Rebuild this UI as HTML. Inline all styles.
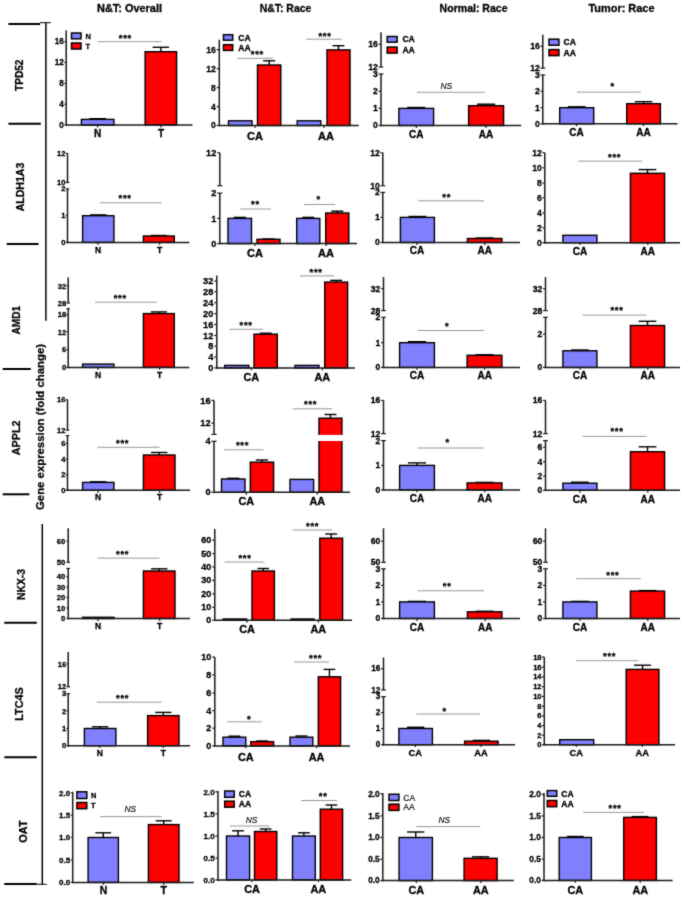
<!DOCTYPE html>
<html lang="en"><head><meta charset="utf-8"><title>Gene expression (fold change)</title>
<style>html,body{margin:0;padding:0;background:#fff}body{width:685px;height:897px;overflow:hidden}svg{display:block;font-family:"Liberation Sans",Arial,sans-serif}</style></head><body>
<svg width="685" height="897" viewBox="0 0 685 897">
<defs><filter id="soft" x="0" y="0" width="100%" height="100%" color-interpolation-filters="sRGB"><feConvolveMatrix order="3" kernelMatrix="1 4 1 4 26 4 1 4 1" edgeMode="duplicate" preserveAlpha="true"/></filter></defs>
<g filter="url(#soft)">
<rect x="0" y="0" width="685" height="897" fill="#fff"/>
<text x="129.5" y="12.2" font-size="11" font-weight="bold" text-anchor="middle" fill="#000" stroke="#000" stroke-width="0.3" textLength="65" lengthAdjust="spacingAndGlyphs">N&amp;T: Overall</text>
<text x="285.5" y="12.2" font-size="11" font-weight="bold" text-anchor="middle" fill="#000" stroke="#000" stroke-width="0.3" textLength="51.5" lengthAdjust="spacingAndGlyphs">N&amp;T: Race</text>
<text x="473.6" y="12.2" font-size="11" font-weight="bold" text-anchor="middle" fill="#000" stroke="#000" stroke-width="0.3" textLength="68" lengthAdjust="spacingAndGlyphs">Normal: Race</text>
<text x="621.5" y="12.2" font-size="11" font-weight="bold" text-anchor="middle" fill="#000" stroke="#000" stroke-width="0.3" textLength="66" lengthAdjust="spacingAndGlyphs">Tumor: Race</text>
<line x1="45.9" y1="22.7" x2="45.9" y2="320.8" stroke="#000" stroke-width="1.5" stroke-linecap="butt"/>
<line x1="40.1" y1="22.7" x2="50.8" y2="22.7" stroke="#000" stroke-width="1" stroke-linecap="butt"/>
<line x1="8.4" y1="24.1" x2="40.1" y2="24.1" stroke="#000" stroke-width="2" stroke-linecap="butt"/>
<line x1="8.4" y1="123.7" x2="40.8" y2="123.7" stroke="#000" stroke-width="2" stroke-linecap="butt"/>
<line x1="6.7" y1="243.9" x2="38.5" y2="243.9" stroke="#000" stroke-width="2" stroke-linecap="butt"/>
<line x1="2.7" y1="369" x2="30.8" y2="369" stroke="#000" stroke-width="2" stroke-linecap="butt"/>
<line x1="2.7" y1="494.3" x2="29.4" y2="494.3" stroke="#000" stroke-width="2" stroke-linecap="butt"/>
<line x1="42.3" y1="524" x2="42.3" y2="884.6" stroke="#000" stroke-width="1.5" stroke-linecap="butt"/>
<line x1="4.3" y1="622.8" x2="36.8" y2="622.8" stroke="#000" stroke-width="2" stroke-linecap="butt"/>
<line x1="4.3" y1="757.3" x2="36.8" y2="757.3" stroke="#000" stroke-width="2" stroke-linecap="butt"/>
<line x1="4.3" y1="884" x2="36.8" y2="884" stroke="#000" stroke-width="2" stroke-linecap="butt"/>
<line x1="36.8" y1="884.3" x2="46.8" y2="884.3" stroke="#000" stroke-width="1" stroke-linecap="butt"/>
<text transform="translate(23.4 75.3) rotate(-90)" font-size="11" font-weight="bold" text-anchor="middle" fill="#000" stroke="#000" stroke-width="0.25" textLength="31.5" lengthAdjust="spacingAndGlyphs">TPD52</text>
<text transform="translate(24 187) rotate(-90)" font-size="11" font-weight="bold" text-anchor="middle" fill="#000" stroke="#000" stroke-width="0.25" textLength="48.5" lengthAdjust="spacingAndGlyphs">ALDH1A3</text>
<text transform="translate(19.7 320.2) rotate(-90)" font-size="11" font-weight="bold" text-anchor="middle" fill="#000" stroke="#000" stroke-width="0.25" textLength="28.4" lengthAdjust="spacingAndGlyphs">AMD1</text>
<text transform="translate(19.7 437.8) rotate(-90)" font-size="11" font-weight="bold" text-anchor="middle" fill="#000" stroke="#000" stroke-width="0.25" textLength="34.8" lengthAdjust="spacingAndGlyphs">APPL2</text>
<text transform="translate(24.7 584.5) rotate(-90)" font-size="11" font-weight="bold" text-anchor="middle" fill="#000" stroke="#000" stroke-width="0.25" textLength="31" lengthAdjust="spacingAndGlyphs">NKX-3</text>
<text transform="translate(23 704) rotate(-90)" font-size="11" font-weight="bold" text-anchor="middle" fill="#000" stroke="#000" stroke-width="0.25" textLength="33.5" lengthAdjust="spacingAndGlyphs">LTC4S</text>
<text transform="translate(26.5 831.5) rotate(-90)" font-size="11" font-weight="bold" text-anchor="middle" fill="#000" stroke="#000" stroke-width="0.25" textLength="22.3" lengthAdjust="spacingAndGlyphs">OAT</text>
<text transform="translate(43.7 427) rotate(-90)" font-size="11.5" font-weight="bold" text-anchor="middle" fill="#000" stroke="#000" stroke-width="0.25" textLength="166" lengthAdjust="spacingAndGlyphs">Gene expression (fold change)</text>
<g>
<line x1="97.65" y1="118.7" x2="97.65" y2="119.4" stroke="#000" stroke-width="1.4" stroke-linecap="butt"/>
<line x1="89.2" y1="118.7" x2="106.1" y2="118.7" stroke="#000" stroke-width="1.4" stroke-linecap="butt"/>
<line x1="160.85" y1="47.3" x2="160.85" y2="51.7" stroke="#000" stroke-width="1.4" stroke-linecap="butt"/>
<line x1="152.66" y1="47.3" x2="169.04" y2="47.3" stroke="#000" stroke-width="1.4" stroke-linecap="butt"/>
<rect x="81.4" y="119.4" width="32.5" height="5.6" fill="#8080ff" stroke="#000" stroke-width="1.4"/>
<rect x="145.1" y="51.7" width="31.5" height="73.3" fill="#ff0000" stroke="#000" stroke-width="1.4"/>
<line x1="66.2" y1="30.6" x2="66.2" y2="125.75" stroke="#1a1a1a" stroke-width="1.5" stroke-linecap="butt"/>
<line x1="65.45" y1="125" x2="192.5" y2="125" stroke="#1a1a1a" stroke-width="1.5" stroke-linecap="butt"/>
<line x1="64.4" y1="41.7" x2="66.2" y2="41.7" stroke="#1a1a1a" stroke-width="1.2" stroke-linecap="butt"/>
<text x="63.9" y="44.49" font-size="8.2" font-weight="bold" text-anchor="end" fill="#000" stroke="#000" stroke-width="0.3">16</text>
<line x1="64.4" y1="62.5" x2="66.2" y2="62.5" stroke="#1a1a1a" stroke-width="1.2" stroke-linecap="butt"/>
<text x="63.9" y="65.29" font-size="8.2" font-weight="bold" text-anchor="end" fill="#000" stroke="#000" stroke-width="0.3">12</text>
<line x1="64.4" y1="83.5" x2="66.2" y2="83.5" stroke="#1a1a1a" stroke-width="1.2" stroke-linecap="butt"/>
<text x="63.9" y="86.29" font-size="8.2" font-weight="bold" text-anchor="end" fill="#000" stroke="#000" stroke-width="0.3">8</text>
<line x1="64.4" y1="104.2" x2="66.2" y2="104.2" stroke="#1a1a1a" stroke-width="1.2" stroke-linecap="butt"/>
<text x="63.9" y="106.99" font-size="8.2" font-weight="bold" text-anchor="end" fill="#000" stroke="#000" stroke-width="0.3">4</text>
<line x1="64.4" y1="125" x2="66.2" y2="125" stroke="#1a1a1a" stroke-width="1.2" stroke-linecap="butt"/>
<text x="63.9" y="127.79" font-size="8.2" font-weight="bold" text-anchor="end" fill="#000" stroke="#000" stroke-width="0.3">0</text>
<line x1="97.5" y1="125" x2="97.5" y2="127.4" stroke="#1a1a1a" stroke-width="1.2" stroke-linecap="butt"/>
<text x="97.5" y="137.4" font-size="10" font-weight="bold" text-anchor="middle" fill="#000" stroke="#000" stroke-width="0.3">N</text>
<line x1="161" y1="125" x2="161" y2="127.4" stroke="#1a1a1a" stroke-width="1.2" stroke-linecap="butt"/>
<text x="161" y="137.4" font-size="10" font-weight="bold" text-anchor="middle" fill="#000" stroke="#000" stroke-width="0.3">T</text>
<line x1="97.8" y1="41.7" x2="161.5" y2="41.7" stroke="#8c8c8c" stroke-width="0.9" stroke-linecap="butt"/>
<text x="125" y="40.9" font-size="9.4" font-weight="bold" text-anchor="middle" fill="#000" stroke="#000" stroke-width="0.3" textLength="12.4" lengthAdjust="spacing">***</text>
<rect x="71.5" y="33" width="9.5" height="5.8" fill="#8080ff" stroke="#000" stroke-width="1.5"/>
<text x="85.5" y="38.56" font-size="7.4" font-weight="bold" text-anchor="start" fill="#000" stroke="#000" stroke-width="0.3">N</text>
<rect x="71.5" y="43" width="9.5" height="6" fill="#ff0000" stroke="#000" stroke-width="1.5"/>
<text x="85.5" y="48.66" font-size="7.4" font-weight="bold" text-anchor="start" fill="#000" stroke="#000" stroke-width="0.3">T</text>
</g>
<g>
<line x1="269.15" y1="60.8" x2="269.15" y2="65" stroke="#000" stroke-width="1.4" stroke-linecap="butt"/>
<line x1="263.09" y1="60.8" x2="275.21" y2="60.8" stroke="#000" stroke-width="1.4" stroke-linecap="butt"/>
<line x1="338.5" y1="45.7" x2="338.5" y2="49.9" stroke="#000" stroke-width="1.4" stroke-linecap="butt"/>
<line x1="332.52" y1="45.7" x2="344.48" y2="45.7" stroke="#000" stroke-width="1.4" stroke-linecap="butt"/>
<rect x="228.5" y="120.8" width="23.5" height="4.7" fill="#8080ff" stroke="#000" stroke-width="1.4"/>
<rect x="257.5" y="65" width="23.3" height="60.5" fill="#ff0000" stroke="#000" stroke-width="1.4"/>
<rect x="297.2" y="120.8" width="23.6" height="4.7" fill="#8080ff" stroke="#000" stroke-width="1.4"/>
<rect x="327" y="49.9" width="23" height="75.6" fill="#ff0000" stroke="#000" stroke-width="1.4"/>
<line x1="219.3" y1="39.7" x2="219.3" y2="126.25" stroke="#1a1a1a" stroke-width="1.5" stroke-linecap="butt"/>
<line x1="218.55" y1="125.5" x2="358.7" y2="125.5" stroke="#1a1a1a" stroke-width="1.5" stroke-linecap="butt"/>
<line x1="216.7" y1="49.6" x2="219.3" y2="49.6" stroke="#1a1a1a" stroke-width="1.2" stroke-linecap="butt"/>
<text x="215.8" y="52.52" font-size="8.6" font-weight="bold" text-anchor="end" fill="#000" stroke="#000" stroke-width="0.3">16</text>
<line x1="216.7" y1="68.7" x2="219.3" y2="68.7" stroke="#1a1a1a" stroke-width="1.2" stroke-linecap="butt"/>
<text x="215.8" y="71.62" font-size="8.6" font-weight="bold" text-anchor="end" fill="#000" stroke="#000" stroke-width="0.3">12</text>
<line x1="216.7" y1="87.6" x2="219.3" y2="87.6" stroke="#1a1a1a" stroke-width="1.2" stroke-linecap="butt"/>
<text x="215.8" y="90.52" font-size="8.6" font-weight="bold" text-anchor="end" fill="#000" stroke="#000" stroke-width="0.3">8</text>
<line x1="216.7" y1="106.7" x2="219.3" y2="106.7" stroke="#1a1a1a" stroke-width="1.2" stroke-linecap="butt"/>
<text x="215.8" y="109.62" font-size="8.6" font-weight="bold" text-anchor="end" fill="#000" stroke="#000" stroke-width="0.3">4</text>
<line x1="216.7" y1="125.5" x2="219.3" y2="125.5" stroke="#1a1a1a" stroke-width="1.2" stroke-linecap="butt"/>
<text x="215.8" y="128.42" font-size="8.6" font-weight="bold" text-anchor="end" fill="#000" stroke="#000" stroke-width="0.3">0</text>
<line x1="255" y1="125.5" x2="255" y2="127.9" stroke="#1a1a1a" stroke-width="1.2" stroke-linecap="butt"/>
<text x="255" y="139.56" font-size="11" font-weight="bold" text-anchor="middle" fill="#000" stroke="#000" stroke-width="0.3">CA</text>
<line x1="324" y1="125.5" x2="324" y2="127.9" stroke="#1a1a1a" stroke-width="1.2" stroke-linecap="butt"/>
<text x="326" y="139.56" font-size="11" font-weight="bold" text-anchor="middle" fill="#000" stroke="#000" stroke-width="0.3">AA</text>
<line x1="237.1" y1="58.3" x2="273.1" y2="58.3" stroke="#8c8c8c" stroke-width="0.9" stroke-linecap="butt"/>
<text x="257" y="56.5" font-size="9.4" font-weight="bold" text-anchor="middle" fill="#000" stroke="#000" stroke-width="0.3" textLength="12.4" lengthAdjust="spacing">***</text>
<line x1="306.1" y1="39.2" x2="341.9" y2="39.2" stroke="#8c8c8c" stroke-width="0.9" stroke-linecap="butt"/>
<text x="324.7" y="39.1" font-size="9.4" font-weight="bold" text-anchor="middle" fill="#000" stroke="#000" stroke-width="0.3" textLength="12.4" lengthAdjust="spacing">***</text>
<rect x="223.5" y="34.7" width="9.2" height="5.5" fill="#8080ff" stroke="#000" stroke-width="1.5"/>
<text x="238.2" y="40.55" font-size="8.6" font-weight="bold" text-anchor="start" fill="#000" stroke="#000" stroke-width="0.3">CA</text>
<rect x="223.5" y="44.7" width="9.2" height="5.7" fill="#ff0000" stroke="#000" stroke-width="1.5"/>
<text x="238.2" y="50.65" font-size="8.6" font-weight="bold" text-anchor="start" fill="#000" stroke="#000" stroke-width="0.3">AA</text>
</g>
<g>
<line x1="416.25" y1="107.5" x2="416.25" y2="108.4" stroke="#000" stroke-width="1.4" stroke-linecap="butt"/>
<line x1="407.23" y1="107.5" x2="425.27" y2="107.5" stroke="#000" stroke-width="1.4" stroke-linecap="butt"/>
<line x1="486.1" y1="104.2" x2="486.1" y2="105.7" stroke="#000" stroke-width="1.4" stroke-linecap="butt"/>
<line x1="477" y1="104.2" x2="495.2" y2="104.2" stroke="#000" stroke-width="1.4" stroke-linecap="butt"/>
<rect x="398.9" y="108.4" width="34.7" height="17.1" fill="#8080ff" stroke="#000" stroke-width="1.4"/>
<rect x="468.6" y="105.7" width="35" height="19.8" fill="#ff0000" stroke="#000" stroke-width="1.4"/>
<line x1="381" y1="32.3" x2="381" y2="67" stroke="#1a1a1a" stroke-width="1.5" stroke-linecap="butt"/>
<line x1="381" y1="74" x2="381" y2="126.25" stroke="#1a1a1a" stroke-width="1.5" stroke-linecap="butt"/>
<line x1="380.25" y1="125.5" x2="521.2" y2="125.5" stroke="#1a1a1a" stroke-width="1.5" stroke-linecap="butt"/>
<line x1="378.6" y1="44.2" x2="381" y2="44.2" stroke="#1a1a1a" stroke-width="1.2" stroke-linecap="butt"/>
<text x="377.9" y="47.12" font-size="8.6" font-weight="bold" text-anchor="end" fill="#000" stroke="#000" stroke-width="0.3">16</text>
<line x1="378.6" y1="67" x2="383.4" y2="67" stroke="#1a1a1a" stroke-width="1.2" stroke-linecap="butt"/>
<text x="377.9" y="69.92" font-size="8.6" font-weight="bold" text-anchor="end" fill="#000" stroke="#000" stroke-width="0.3">12</text>
<line x1="378.6" y1="74" x2="383.4" y2="74" stroke="#1a1a1a" stroke-width="1.2" stroke-linecap="butt"/>
<text x="377.9" y="76.92" font-size="8.6" font-weight="bold" text-anchor="end" fill="#000" stroke="#000" stroke-width="0.3">3</text>
<line x1="378.6" y1="91.3" x2="381" y2="91.3" stroke="#1a1a1a" stroke-width="1.2" stroke-linecap="butt"/>
<text x="377.9" y="94.22" font-size="8.6" font-weight="bold" text-anchor="end" fill="#000" stroke="#000" stroke-width="0.3">2</text>
<line x1="378.6" y1="108.4" x2="381" y2="108.4" stroke="#1a1a1a" stroke-width="1.2" stroke-linecap="butt"/>
<text x="377.9" y="111.32" font-size="8.6" font-weight="bold" text-anchor="end" fill="#000" stroke="#000" stroke-width="0.3">1</text>
<line x1="378.6" y1="125.5" x2="381" y2="125.5" stroke="#1a1a1a" stroke-width="1.2" stroke-linecap="butt"/>
<text x="377.9" y="128.42" font-size="8.6" font-weight="bold" text-anchor="end" fill="#000" stroke="#000" stroke-width="0.3">0</text>
<line x1="416.3" y1="125.5" x2="416.3" y2="127.9" stroke="#1a1a1a" stroke-width="1.2" stroke-linecap="butt"/>
<text x="416.3" y="138.4" font-size="10" font-weight="bold" text-anchor="middle" fill="#000" stroke="#000" stroke-width="0.3">CA</text>
<line x1="486" y1="125.5" x2="486" y2="127.9" stroke="#1a1a1a" stroke-width="1.2" stroke-linecap="butt"/>
<text x="486" y="138.4" font-size="10" font-weight="bold" text-anchor="middle" fill="#000" stroke="#000" stroke-width="0.3">AA</text>
<line x1="417" y1="92.3" x2="484.7" y2="92.3" stroke="#8c8c8c" stroke-width="0.9" stroke-linecap="butt"/>
<text x="446.3" y="88.5" font-size="9" font-weight="normal" text-anchor="middle" fill="#111" font-style="italic" stroke="#111" stroke-width="0.2" textLength="11.6" lengthAdjust="spacingAndGlyphs">NS</text>
<rect x="387.2" y="36.5" width="9.9" height="5.7" fill="#8080ff" stroke="#000" stroke-width="1.5"/>
<text x="402.4" y="42.45" font-size="8.6" font-weight="bold" text-anchor="start" fill="#000" stroke="#000" stroke-width="0.3">CA</text>
<rect x="387.2" y="47.1" width="9.9" height="6" fill="#ff0000" stroke="#000" stroke-width="1.5"/>
<text x="402.4" y="53.2" font-size="8.6" font-weight="bold" text-anchor="start" fill="#000" stroke="#000" stroke-width="0.3">AA</text>
</g>
<g>
<line x1="576.7" y1="106.8" x2="576.7" y2="107.7" stroke="#000" stroke-width="1.4" stroke-linecap="butt"/>
<line x1="567.86" y1="106.8" x2="585.54" y2="106.8" stroke="#000" stroke-width="1.4" stroke-linecap="butt"/>
<line x1="643.55" y1="101.7" x2="643.55" y2="103.7" stroke="#000" stroke-width="1.4" stroke-linecap="butt"/>
<line x1="634.79" y1="101.7" x2="652.31" y2="101.7" stroke="#000" stroke-width="1.4" stroke-linecap="butt"/>
<rect x="559.7" y="107.7" width="34" height="16.1" fill="#8080ff" stroke="#000" stroke-width="1.4"/>
<rect x="626.7" y="103.7" width="33.7" height="20.1" fill="#ff0000" stroke="#000" stroke-width="1.4"/>
<line x1="542.8" y1="34.7" x2="542.8" y2="68.2" stroke="#1a1a1a" stroke-width="1.5" stroke-linecap="butt"/>
<line x1="542.8" y1="74.9" x2="542.8" y2="124.55" stroke="#1a1a1a" stroke-width="1.5" stroke-linecap="butt"/>
<line x1="542.05" y1="123.8" x2="677.5" y2="123.8" stroke="#1a1a1a" stroke-width="1.5" stroke-linecap="butt"/>
<line x1="540.4" y1="46.2" x2="542.8" y2="46.2" stroke="#1a1a1a" stroke-width="1.2" stroke-linecap="butt"/>
<text x="539.7" y="49.12" font-size="8.6" font-weight="bold" text-anchor="end" fill="#000" stroke="#000" stroke-width="0.3">16</text>
<line x1="540.4" y1="68.2" x2="545.2" y2="68.2" stroke="#1a1a1a" stroke-width="1.2" stroke-linecap="butt"/>
<text x="539.7" y="71.12" font-size="8.6" font-weight="bold" text-anchor="end" fill="#000" stroke="#000" stroke-width="0.3">12</text>
<line x1="540.4" y1="74.9" x2="545.2" y2="74.9" stroke="#1a1a1a" stroke-width="1.2" stroke-linecap="butt"/>
<text x="539.7" y="77.82" font-size="8.6" font-weight="bold" text-anchor="end" fill="#000" stroke="#000" stroke-width="0.3">3</text>
<line x1="540.4" y1="91.3" x2="542.8" y2="91.3" stroke="#1a1a1a" stroke-width="1.2" stroke-linecap="butt"/>
<text x="539.7" y="94.22" font-size="8.6" font-weight="bold" text-anchor="end" fill="#000" stroke="#000" stroke-width="0.3">2</text>
<line x1="540.4" y1="107.7" x2="542.8" y2="107.7" stroke="#1a1a1a" stroke-width="1.2" stroke-linecap="butt"/>
<text x="539.7" y="110.62" font-size="8.6" font-weight="bold" text-anchor="end" fill="#000" stroke="#000" stroke-width="0.3">1</text>
<line x1="540.4" y1="123.8" x2="542.8" y2="123.8" stroke="#1a1a1a" stroke-width="1.2" stroke-linecap="butt"/>
<text x="539.7" y="126.72" font-size="8.6" font-weight="bold" text-anchor="end" fill="#000" stroke="#000" stroke-width="0.3">0</text>
<line x1="576.5" y1="123.8" x2="576.5" y2="126.2" stroke="#1a1a1a" stroke-width="1.2" stroke-linecap="butt"/>
<text x="576.5" y="136.4" font-size="10" font-weight="bold" text-anchor="middle" fill="#000" stroke="#000" stroke-width="0.3">CA</text>
<line x1="643.5" y1="123.8" x2="643.5" y2="126.2" stroke="#1a1a1a" stroke-width="1.2" stroke-linecap="butt"/>
<text x="643.5" y="136.4" font-size="10" font-weight="bold" text-anchor="middle" fill="#000" stroke="#000" stroke-width="0.3">AA</text>
<line x1="577" y1="92.1" x2="640.8" y2="92.1" stroke="#8c8c8c" stroke-width="0.9" stroke-linecap="butt"/>
<text x="612.3" y="88.8" font-size="9.4" font-weight="bold" text-anchor="middle" fill="#000" stroke="#000" stroke-width="0.3">*</text>
<rect x="549" y="39.2" width="9.9" height="6" fill="#8080ff" stroke="#000" stroke-width="1.5"/>
<text x="563.6" y="45.3" font-size="8.6" font-weight="bold" text-anchor="start" fill="#000" stroke="#000" stroke-width="0.3">CA</text>
<rect x="549" y="49.6" width="9.9" height="6" fill="#ff0000" stroke="#000" stroke-width="1.5"/>
<text x="563.6" y="55.7" font-size="8.6" font-weight="bold" text-anchor="start" fill="#000" stroke="#000" stroke-width="0.3">AA</text>
</g>
<g>
<line x1="98.25" y1="214.9" x2="98.25" y2="215.7" stroke="#000" stroke-width="1.4" stroke-linecap="butt"/>
<line x1="90.11" y1="214.9" x2="106.39" y2="214.9" stroke="#000" stroke-width="1.4" stroke-linecap="butt"/>
<line x1="158.85" y1="235.5" x2="158.85" y2="236" stroke="#000" stroke-width="1.4" stroke-linecap="butt"/>
<line x1="150.82" y1="235.5" x2="166.88" y2="235.5" stroke="#000" stroke-width="1.4" stroke-linecap="butt"/>
<rect x="82.6" y="215.7" width="31.3" height="26.7" fill="#8080ff" stroke="#000" stroke-width="1.4"/>
<rect x="143.4" y="236" width="30.9" height="6.4" fill="#ff0000" stroke="#000" stroke-width="1.4"/>
<line x1="67.5" y1="153.4" x2="67.5" y2="182.5" stroke="#1a1a1a" stroke-width="1.5" stroke-linecap="butt"/>
<line x1="67.5" y1="188.9" x2="67.5" y2="243.15" stroke="#1a1a1a" stroke-width="1.5" stroke-linecap="butt"/>
<line x1="66.75" y1="242.4" x2="189.3" y2="242.4" stroke="#1a1a1a" stroke-width="1.5" stroke-linecap="butt"/>
<line x1="65.7" y1="153.4" x2="67.5" y2="153.4" stroke="#1a1a1a" stroke-width="1.2" stroke-linecap="butt"/>
<text x="65.5" y="155.98" font-size="7.6" font-weight="bold" text-anchor="end" fill="#000" stroke="#000" stroke-width="0.3">12</text>
<line x1="65.7" y1="182.5" x2="69.3" y2="182.5" stroke="#1a1a1a" stroke-width="1.2" stroke-linecap="butt"/>
<text x="65.5" y="185.08" font-size="7.6" font-weight="bold" text-anchor="end" fill="#000" stroke="#000" stroke-width="0.3">10</text>
<line x1="65.7" y1="188.9" x2="69.3" y2="188.9" stroke="#1a1a1a" stroke-width="1.2" stroke-linecap="butt"/>
<text x="65.5" y="191.48" font-size="7.6" font-weight="bold" text-anchor="end" fill="#000" stroke="#000" stroke-width="0.3">2</text>
<line x1="65.7" y1="215.7" x2="67.5" y2="215.7" stroke="#1a1a1a" stroke-width="1.2" stroke-linecap="butt"/>
<text x="65.5" y="218.28" font-size="7.6" font-weight="bold" text-anchor="end" fill="#000" stroke="#000" stroke-width="0.3">1</text>
<line x1="65.7" y1="242.4" x2="67.5" y2="242.4" stroke="#1a1a1a" stroke-width="1.2" stroke-linecap="butt"/>
<text x="65.5" y="244.98" font-size="7.6" font-weight="bold" text-anchor="end" fill="#000" stroke="#000" stroke-width="0.3">0</text>
<line x1="98" y1="242.4" x2="98" y2="244.8" stroke="#1a1a1a" stroke-width="1.2" stroke-linecap="butt"/>
<text x="98" y="252.96" font-size="8.5" font-weight="bold" text-anchor="middle" fill="#000" stroke="#000" stroke-width="0.3">N</text>
<line x1="159.6" y1="242.4" x2="159.6" y2="244.8" stroke="#1a1a1a" stroke-width="1.2" stroke-linecap="butt"/>
<text x="159.6" y="252.96" font-size="8.5" font-weight="bold" text-anchor="middle" fill="#000" stroke="#000" stroke-width="0.3">T</text>
<line x1="100" y1="202.8" x2="161.8" y2="202.8" stroke="#8c8c8c" stroke-width="0.9" stroke-linecap="butt"/>
<text x="124.8" y="200.7" font-size="9.4" font-weight="bold" text-anchor="middle" fill="#000" stroke="#000" stroke-width="0.3" textLength="12.4" lengthAdjust="spacing">***</text>
</g>
<g>
<line x1="239.75" y1="217.4" x2="239.75" y2="218.4" stroke="#000" stroke-width="1.4" stroke-linecap="butt"/>
<line x1="233.64" y1="217.4" x2="245.86" y2="217.4" stroke="#000" stroke-width="1.4" stroke-linecap="butt"/>
<line x1="268.5" y1="239" x2="268.5" y2="239.3" stroke="#000" stroke-width="1.4" stroke-linecap="butt"/>
<line x1="262.52" y1="239" x2="274.48" y2="239" stroke="#000" stroke-width="1.4" stroke-linecap="butt"/>
<line x1="308.25" y1="217.4" x2="308.25" y2="218.4" stroke="#000" stroke-width="1.4" stroke-linecap="butt"/>
<line x1="302.24" y1="217.4" x2="314.26" y2="217.4" stroke="#000" stroke-width="1.4" stroke-linecap="butt"/>
<line x1="337.25" y1="211.2" x2="337.25" y2="213" stroke="#000" stroke-width="1.4" stroke-linecap="butt"/>
<line x1="331.24" y1="211.2" x2="343.26" y2="211.2" stroke="#000" stroke-width="1.4" stroke-linecap="butt"/>
<rect x="228" y="218.4" width="23.5" height="25.2" fill="#8080ff" stroke="#000" stroke-width="1.4"/>
<rect x="257" y="239.3" width="23" height="4.3" fill="#ff0000" stroke="#000" stroke-width="1.4"/>
<rect x="296.7" y="218.4" width="23.1" height="25.2" fill="#8080ff" stroke="#000" stroke-width="1.4"/>
<rect x="325.7" y="213" width="23.1" height="30.6" fill="#ff0000" stroke="#000" stroke-width="1.4"/>
<line x1="219.8" y1="152.7" x2="219.8" y2="185.7" stroke="#1a1a1a" stroke-width="1.5" stroke-linecap="butt"/>
<line x1="219.8" y1="193.1" x2="219.8" y2="244.35" stroke="#1a1a1a" stroke-width="1.5" stroke-linecap="butt"/>
<line x1="219.05" y1="243.6" x2="357" y2="243.6" stroke="#1a1a1a" stroke-width="1.5" stroke-linecap="butt"/>
<line x1="217.2" y1="152.7" x2="219.8" y2="152.7" stroke="#1a1a1a" stroke-width="1.2" stroke-linecap="butt"/>
<text x="216.3" y="155.83" font-size="9.2" font-weight="bold" text-anchor="end" fill="#000" stroke="#000" stroke-width="0.3">12</text>
<line x1="217.2" y1="185.7" x2="222.4" y2="185.7" stroke="#1a1a1a" stroke-width="1.2" stroke-linecap="butt"/>
<line x1="217.2" y1="193.1" x2="222.4" y2="193.1" stroke="#1a1a1a" stroke-width="1.2" stroke-linecap="butt"/>
<text x="216.3" y="196.23" font-size="9.2" font-weight="bold" text-anchor="end" fill="#000" stroke="#000" stroke-width="0.3">2</text>
<line x1="217.2" y1="218.4" x2="219.8" y2="218.4" stroke="#1a1a1a" stroke-width="1.2" stroke-linecap="butt"/>
<text x="216.3" y="221.53" font-size="9.2" font-weight="bold" text-anchor="end" fill="#000" stroke="#000" stroke-width="0.3">1</text>
<line x1="217.2" y1="243.6" x2="219.8" y2="243.6" stroke="#1a1a1a" stroke-width="1.2" stroke-linecap="butt"/>
<text x="216.3" y="246.73" font-size="9.2" font-weight="bold" text-anchor="end" fill="#000" stroke="#000" stroke-width="0.3">0</text>
<line x1="255" y1="243.6" x2="255" y2="246" stroke="#1a1a1a" stroke-width="1.2" stroke-linecap="butt"/>
<text x="255" y="256.76" font-size="11" font-weight="bold" text-anchor="middle" fill="#000" stroke="#000" stroke-width="0.3">CA</text>
<line x1="326" y1="243.6" x2="326" y2="246" stroke="#1a1a1a" stroke-width="1.2" stroke-linecap="butt"/>
<text x="326" y="256.76" font-size="11" font-weight="bold" text-anchor="middle" fill="#000" stroke="#000" stroke-width="0.3">AA</text>
<line x1="240.4" y1="209" x2="271.1" y2="209" stroke="#8c8c8c" stroke-width="0.9" stroke-linecap="butt"/>
<text x="255" y="207.2" font-size="9.4" font-weight="bold" text-anchor="middle" fill="#000" stroke="#000" stroke-width="0.3" textLength="8.2" lengthAdjust="spacing">**</text>
<line x1="304.1" y1="204.5" x2="335.2" y2="204.5" stroke="#8c8c8c" stroke-width="0.9" stroke-linecap="butt"/>
<text x="318.3" y="202.2" font-size="9.4" font-weight="bold" text-anchor="middle" fill="#000" stroke="#000" stroke-width="0.3">*</text>
</g>
<g>
<line x1="417.4" y1="216.5" x2="417.4" y2="217.4" stroke="#000" stroke-width="1.4" stroke-linecap="butt"/>
<line x1="408.56" y1="216.5" x2="426.24" y2="216.5" stroke="#000" stroke-width="1.4" stroke-linecap="butt"/>
<line x1="484.65" y1="238" x2="484.65" y2="238.5" stroke="#000" stroke-width="1.4" stroke-linecap="butt"/>
<line x1="475.68" y1="238" x2="493.62" y2="238" stroke="#000" stroke-width="1.4" stroke-linecap="butt"/>
<rect x="400.4" y="217.4" width="34" height="25.1" fill="#8080ff" stroke="#000" stroke-width="1.4"/>
<rect x="467.4" y="238.5" width="34.5" height="4" fill="#ff0000" stroke="#000" stroke-width="1.4"/>
<line x1="382.8" y1="152.7" x2="382.8" y2="185.7" stroke="#1a1a1a" stroke-width="1.5" stroke-linecap="butt"/>
<line x1="382.8" y1="192.4" x2="382.8" y2="243.25" stroke="#1a1a1a" stroke-width="1.5" stroke-linecap="butt"/>
<line x1="382.05" y1="242.5" x2="520" y2="242.5" stroke="#1a1a1a" stroke-width="1.5" stroke-linecap="butt"/>
<line x1="380.4" y1="152.7" x2="382.8" y2="152.7" stroke="#1a1a1a" stroke-width="1.2" stroke-linecap="butt"/>
<text x="379.7" y="155.62" font-size="8.6" font-weight="bold" text-anchor="end" fill="#000" stroke="#000" stroke-width="0.3">12</text>
<line x1="380.4" y1="185.7" x2="385.2" y2="185.7" stroke="#1a1a1a" stroke-width="1.2" stroke-linecap="butt"/>
<text x="379.7" y="188.62" font-size="8.6" font-weight="bold" text-anchor="end" fill="#000" stroke="#000" stroke-width="0.3">10</text>
<line x1="380.4" y1="192.4" x2="385.2" y2="192.4" stroke="#1a1a1a" stroke-width="1.2" stroke-linecap="butt"/>
<text x="379.7" y="195.32" font-size="8.6" font-weight="bold" text-anchor="end" fill="#000" stroke="#000" stroke-width="0.3">2</text>
<line x1="380.4" y1="217.4" x2="382.8" y2="217.4" stroke="#1a1a1a" stroke-width="1.2" stroke-linecap="butt"/>
<text x="379.7" y="220.32" font-size="8.6" font-weight="bold" text-anchor="end" fill="#000" stroke="#000" stroke-width="0.3">1</text>
<line x1="380.4" y1="242.5" x2="382.8" y2="242.5" stroke="#1a1a1a" stroke-width="1.2" stroke-linecap="butt"/>
<text x="379.7" y="245.42" font-size="8.6" font-weight="bold" text-anchor="end" fill="#000" stroke="#000" stroke-width="0.3">0</text>
<line x1="417" y1="242.5" x2="417" y2="244.9" stroke="#1a1a1a" stroke-width="1.2" stroke-linecap="butt"/>
<text x="417" y="254.2" font-size="10" font-weight="bold" text-anchor="middle" fill="#000" stroke="#000" stroke-width="0.3">CA</text>
<line x1="484.7" y1="242.5" x2="484.7" y2="244.9" stroke="#1a1a1a" stroke-width="1.2" stroke-linecap="butt"/>
<text x="484.7" y="254.2" font-size="10" font-weight="bold" text-anchor="middle" fill="#000" stroke="#000" stroke-width="0.3">AA</text>
<line x1="418.2" y1="200.8" x2="484" y2="200.8" stroke="#8c8c8c" stroke-width="0.9" stroke-linecap="butt"/>
<text x="446.3" y="199.5" font-size="9.4" font-weight="bold" text-anchor="middle" fill="#000" stroke="#000" stroke-width="0.3" textLength="8.2" lengthAdjust="spacing">**</text>
</g>
<g>
<line x1="647.5" y1="169.6" x2="647.5" y2="173.3" stroke="#000" stroke-width="1.4" stroke-linecap="butt"/>
<line x1="638.61" y1="169.6" x2="656.39" y2="169.6" stroke="#000" stroke-width="1.4" stroke-linecap="butt"/>
<rect x="562.9" y="235.3" width="34" height="7.4" fill="#8080ff" stroke="#000" stroke-width="1.4"/>
<rect x="630.4" y="173.3" width="34.2" height="69.4" fill="#ff0000" stroke="#000" stroke-width="1.4"/>
<line x1="544.8" y1="152.7" x2="544.8" y2="243.45" stroke="#1a1a1a" stroke-width="1.5" stroke-linecap="butt"/>
<line x1="544.05" y1="242.7" x2="680" y2="242.7" stroke="#1a1a1a" stroke-width="1.5" stroke-linecap="butt"/>
<line x1="542.4" y1="152.7" x2="544.8" y2="152.7" stroke="#1a1a1a" stroke-width="1.2" stroke-linecap="butt"/>
<text x="541.7" y="155.62" font-size="8.6" font-weight="bold" text-anchor="end" fill="#000" stroke="#000" stroke-width="0.3">12</text>
<line x1="542.4" y1="167.8" x2="544.8" y2="167.8" stroke="#1a1a1a" stroke-width="1.2" stroke-linecap="butt"/>
<text x="541.7" y="170.72" font-size="8.6" font-weight="bold" text-anchor="end" fill="#000" stroke="#000" stroke-width="0.3">10</text>
<line x1="542.4" y1="183" x2="544.8" y2="183" stroke="#1a1a1a" stroke-width="1.2" stroke-linecap="butt"/>
<text x="541.7" y="185.92" font-size="8.6" font-weight="bold" text-anchor="end" fill="#000" stroke="#000" stroke-width="0.3">8</text>
<line x1="542.4" y1="197.8" x2="544.8" y2="197.8" stroke="#1a1a1a" stroke-width="1.2" stroke-linecap="butt"/>
<text x="541.7" y="200.72" font-size="8.6" font-weight="bold" text-anchor="end" fill="#000" stroke="#000" stroke-width="0.3">6</text>
<line x1="542.4" y1="213" x2="544.8" y2="213" stroke="#1a1a1a" stroke-width="1.2" stroke-linecap="butt"/>
<text x="541.7" y="215.92" font-size="8.6" font-weight="bold" text-anchor="end" fill="#000" stroke="#000" stroke-width="0.3">4</text>
<line x1="542.4" y1="227.9" x2="544.8" y2="227.9" stroke="#1a1a1a" stroke-width="1.2" stroke-linecap="butt"/>
<text x="541.7" y="230.82" font-size="8.6" font-weight="bold" text-anchor="end" fill="#000" stroke="#000" stroke-width="0.3">2</text>
<line x1="542.4" y1="242.7" x2="544.8" y2="242.7" stroke="#1a1a1a" stroke-width="1.2" stroke-linecap="butt"/>
<text x="541.7" y="245.62" font-size="8.6" font-weight="bold" text-anchor="end" fill="#000" stroke="#000" stroke-width="0.3">0</text>
<line x1="580" y1="242.7" x2="580" y2="245.1" stroke="#1a1a1a" stroke-width="1.2" stroke-linecap="butt"/>
<text x="580" y="255.2" font-size="10" font-weight="bold" text-anchor="middle" fill="#000" stroke="#000" stroke-width="0.3">CA</text>
<line x1="647.8" y1="242.7" x2="647.8" y2="245.1" stroke="#1a1a1a" stroke-width="1.2" stroke-linecap="butt"/>
<text x="647.8" y="255.2" font-size="10" font-weight="bold" text-anchor="middle" fill="#000" stroke="#000" stroke-width="0.3">AA</text>
<line x1="578.3" y1="161.1" x2="642" y2="161.1" stroke="#8c8c8c" stroke-width="0.9" stroke-linecap="butt"/>
<text x="614.3" y="159.8" font-size="9.4" font-weight="bold" text-anchor="middle" fill="#000" stroke="#000" stroke-width="0.3" textLength="12.4" lengthAdjust="spacing">***</text>
</g>
<g>
<line x1="158.85" y1="311.9" x2="158.85" y2="313.6" stroke="#000" stroke-width="1.4" stroke-linecap="butt"/>
<line x1="150.82" y1="311.9" x2="166.88" y2="311.9" stroke="#000" stroke-width="1.4" stroke-linecap="butt"/>
<rect x="82.6" y="364.1" width="31.3" height="3.3" fill="#8080ff" stroke="#000" stroke-width="1.4"/>
<rect x="143.4" y="313.6" width="30.9" height="53.8" fill="#ff0000" stroke="#000" stroke-width="1.4"/>
<line x1="68.2" y1="277.6" x2="68.2" y2="303" stroke="#1a1a1a" stroke-width="1.5" stroke-linecap="butt"/>
<line x1="68.2" y1="308.7" x2="68.2" y2="368.15" stroke="#1a1a1a" stroke-width="1.5" stroke-linecap="butt"/>
<line x1="67.45" y1="367.4" x2="189.3" y2="367.4" stroke="#1a1a1a" stroke-width="1.5" stroke-linecap="butt"/>
<line x1="66.4" y1="286.1" x2="68.2" y2="286.1" stroke="#1a1a1a" stroke-width="1.2" stroke-linecap="butt"/>
<text x="66.2" y="288.68" font-size="7.6" font-weight="bold" text-anchor="end" fill="#000" stroke="#000" stroke-width="0.3">32</text>
<line x1="66.4" y1="303" x2="70" y2="303" stroke="#1a1a1a" stroke-width="1.2" stroke-linecap="butt"/>
<text x="66.2" y="305.58" font-size="7.6" font-weight="bold" text-anchor="end" fill="#000" stroke="#000" stroke-width="0.3">28</text>
<line x1="66.4" y1="308.7" x2="70" y2="308.7" stroke="#1a1a1a" stroke-width="1.2" stroke-linecap="butt"/>
<line x1="66.4" y1="314.6" x2="68.2" y2="314.6" stroke="#1a1a1a" stroke-width="1.2" stroke-linecap="butt"/>
<text x="66.2" y="317.18" font-size="7.6" font-weight="bold" text-anchor="end" fill="#000" stroke="#000" stroke-width="0.3">18</text>
<line x1="66.4" y1="332" x2="68.2" y2="332" stroke="#1a1a1a" stroke-width="1.2" stroke-linecap="butt"/>
<text x="66.2" y="334.58" font-size="7.6" font-weight="bold" text-anchor="end" fill="#000" stroke="#000" stroke-width="0.3">12</text>
<line x1="66.4" y1="349.6" x2="68.2" y2="349.6" stroke="#1a1a1a" stroke-width="1.2" stroke-linecap="butt"/>
<text x="66.2" y="352.18" font-size="7.6" font-weight="bold" text-anchor="end" fill="#000" stroke="#000" stroke-width="0.3">6</text>
<line x1="66.4" y1="367.4" x2="68.2" y2="367.4" stroke="#1a1a1a" stroke-width="1.2" stroke-linecap="butt"/>
<text x="66.2" y="369.98" font-size="7.6" font-weight="bold" text-anchor="end" fill="#000" stroke="#000" stroke-width="0.3">0</text>
<line x1="98" y1="367.4" x2="98" y2="369.8" stroke="#1a1a1a" stroke-width="1.2" stroke-linecap="butt"/>
<text x="98" y="377.86" font-size="8.5" font-weight="bold" text-anchor="middle" fill="#000" stroke="#000" stroke-width="0.3">N</text>
<line x1="159.6" y1="367.4" x2="159.6" y2="369.8" stroke="#1a1a1a" stroke-width="1.2" stroke-linecap="butt"/>
<text x="159.6" y="377.86" font-size="8.5" font-weight="bold" text-anchor="middle" fill="#000" stroke="#000" stroke-width="0.3">T</text>
<line x1="95" y1="302.2" x2="156.8" y2="302.2" stroke="#8c8c8c" stroke-width="0.9" stroke-linecap="butt"/>
<text x="119.9" y="300.9" font-size="9.4" font-weight="bold" text-anchor="middle" fill="#000" stroke="#000" stroke-width="0.3" textLength="12.4" lengthAdjust="spacing">***</text>
</g>
<g>
<line x1="265.65" y1="333.2" x2="265.65" y2="334.2" stroke="#000" stroke-width="1.4" stroke-linecap="butt"/>
<line x1="259.59" y1="333.2" x2="271.71" y2="333.2" stroke="#000" stroke-width="1.4" stroke-linecap="butt"/>
<line x1="336.15" y1="280.4" x2="336.15" y2="282.1" stroke="#000" stroke-width="1.4" stroke-linecap="butt"/>
<line x1="330.2" y1="280.4" x2="342.1" y2="280.4" stroke="#000" stroke-width="1.4" stroke-linecap="butt"/>
<rect x="224.7" y="365.4" width="24.1" height="2.5" fill="#8080ff" stroke="#000" stroke-width="1.4"/>
<rect x="254" y="334.2" width="23.3" height="33.7" fill="#ff0000" stroke="#000" stroke-width="1.4"/>
<rect x="295" y="365.4" width="24" height="2.5" fill="#8080ff" stroke="#000" stroke-width="1.4"/>
<rect x="324.7" y="282.1" width="22.9" height="85.8" fill="#ff0000" stroke="#000" stroke-width="1.4"/>
<line x1="216.8" y1="275.4" x2="216.8" y2="368.65" stroke="#1a1a1a" stroke-width="1.5" stroke-linecap="butt"/>
<line x1="216.05" y1="367.9" x2="355" y2="367.9" stroke="#1a1a1a" stroke-width="1.5" stroke-linecap="butt"/>
<line x1="214.2" y1="281.1" x2="216.8" y2="281.1" stroke="#1a1a1a" stroke-width="1.2" stroke-linecap="butt"/>
<text x="213.3" y="284.23" font-size="9.2" font-weight="bold" text-anchor="end" fill="#000" stroke="#000" stroke-width="0.3">32</text>
<line x1="214.2" y1="291.8" x2="216.8" y2="291.8" stroke="#1a1a1a" stroke-width="1.2" stroke-linecap="butt"/>
<text x="213.3" y="294.93" font-size="9.2" font-weight="bold" text-anchor="end" fill="#000" stroke="#000" stroke-width="0.3">28</text>
<line x1="214.2" y1="302.7" x2="216.8" y2="302.7" stroke="#1a1a1a" stroke-width="1.2" stroke-linecap="butt"/>
<text x="213.3" y="305.83" font-size="9.2" font-weight="bold" text-anchor="end" fill="#000" stroke="#000" stroke-width="0.3">24</text>
<line x1="214.2" y1="313.6" x2="216.8" y2="313.6" stroke="#1a1a1a" stroke-width="1.2" stroke-linecap="butt"/>
<text x="213.3" y="316.73" font-size="9.2" font-weight="bold" text-anchor="end" fill="#000" stroke="#000" stroke-width="0.3">20</text>
<line x1="214.2" y1="324.5" x2="216.8" y2="324.5" stroke="#1a1a1a" stroke-width="1.2" stroke-linecap="butt"/>
<text x="213.3" y="327.63" font-size="9.2" font-weight="bold" text-anchor="end" fill="#000" stroke="#000" stroke-width="0.3">16</text>
<line x1="214.2" y1="335.5" x2="216.8" y2="335.5" stroke="#1a1a1a" stroke-width="1.2" stroke-linecap="butt"/>
<text x="213.3" y="338.63" font-size="9.2" font-weight="bold" text-anchor="end" fill="#000" stroke="#000" stroke-width="0.3">12</text>
<line x1="214.2" y1="346.1" x2="216.8" y2="346.1" stroke="#1a1a1a" stroke-width="1.2" stroke-linecap="butt"/>
<text x="213.3" y="349.23" font-size="9.2" font-weight="bold" text-anchor="end" fill="#000" stroke="#000" stroke-width="0.3">8</text>
<line x1="214.2" y1="357" x2="216.8" y2="357" stroke="#1a1a1a" stroke-width="1.2" stroke-linecap="butt"/>
<text x="213.3" y="360.13" font-size="9.2" font-weight="bold" text-anchor="end" fill="#000" stroke="#000" stroke-width="0.3">4</text>
<line x1="214.2" y1="367.9" x2="216.8" y2="367.9" stroke="#1a1a1a" stroke-width="1.2" stroke-linecap="butt"/>
<text x="213.3" y="371.03" font-size="9.2" font-weight="bold" text-anchor="end" fill="#000" stroke="#000" stroke-width="0.3">0</text>
<line x1="251.3" y1="367.9" x2="251.3" y2="370.3" stroke="#1a1a1a" stroke-width="1.2" stroke-linecap="butt"/>
<text x="251.3" y="381.22" font-size="10.9" font-weight="bold" text-anchor="middle" fill="#000" stroke="#000" stroke-width="0.3">CA</text>
<line x1="322.3" y1="367.9" x2="322.3" y2="370.3" stroke="#1a1a1a" stroke-width="1.2" stroke-linecap="butt"/>
<text x="322.3" y="381.22" font-size="10.9" font-weight="bold" text-anchor="middle" fill="#000" stroke="#000" stroke-width="0.3">AA</text>
<line x1="229.7" y1="329.3" x2="262.7" y2="329.3" stroke="#8c8c8c" stroke-width="0.9" stroke-linecap="butt"/>
<text x="245.8" y="327.7" font-size="9.4" font-weight="bold" text-anchor="middle" fill="#000" stroke="#000" stroke-width="0.3" textLength="12.4" lengthAdjust="spacing">***</text>
<line x1="300" y1="275.9" x2="334.4" y2="275.9" stroke="#8c8c8c" stroke-width="0.9" stroke-linecap="butt"/>
<text x="315.8" y="274.9" font-size="9.4" font-weight="bold" text-anchor="middle" fill="#000" stroke="#000" stroke-width="0.3" textLength="12.4" lengthAdjust="spacing">***</text>
</g>
<g>
<line x1="417" y1="341.7" x2="417" y2="342.7" stroke="#000" stroke-width="1.4" stroke-linecap="butt"/>
<line x1="407.95" y1="341.7" x2="426.05" y2="341.7" stroke="#000" stroke-width="1.4" stroke-linecap="butt"/>
<line x1="484.5" y1="354.8" x2="484.5" y2="355.3" stroke="#000" stroke-width="1.4" stroke-linecap="butt"/>
<line x1="475.45" y1="354.8" x2="493.55" y2="354.8" stroke="#000" stroke-width="1.4" stroke-linecap="butt"/>
<rect x="399.6" y="342.7" width="34.8" height="24.7" fill="#8080ff" stroke="#000" stroke-width="1.4"/>
<rect x="467.1" y="355.3" width="34.8" height="12.1" fill="#ff0000" stroke="#000" stroke-width="1.4"/>
<line x1="383.5" y1="277.1" x2="383.5" y2="310.6" stroke="#1a1a1a" stroke-width="1.5" stroke-linecap="butt"/>
<line x1="383.5" y1="317.3" x2="383.5" y2="368.15" stroke="#1a1a1a" stroke-width="1.5" stroke-linecap="butt"/>
<line x1="382.75" y1="367.4" x2="520" y2="367.4" stroke="#1a1a1a" stroke-width="1.5" stroke-linecap="butt"/>
<line x1="381.1" y1="288.6" x2="383.5" y2="288.6" stroke="#1a1a1a" stroke-width="1.2" stroke-linecap="butt"/>
<text x="380.4" y="291.52" font-size="8.6" font-weight="bold" text-anchor="end" fill="#000" stroke="#000" stroke-width="0.3">32</text>
<line x1="381.1" y1="310.6" x2="385.9" y2="310.6" stroke="#1a1a1a" stroke-width="1.2" stroke-linecap="butt"/>
<text x="380.4" y="313.52" font-size="8.6" font-weight="bold" text-anchor="end" fill="#000" stroke="#000" stroke-width="0.3">28</text>
<line x1="381.1" y1="317.3" x2="385.9" y2="317.3" stroke="#1a1a1a" stroke-width="1.2" stroke-linecap="butt"/>
<text x="380.4" y="320.22" font-size="8.6" font-weight="bold" text-anchor="end" fill="#000" stroke="#000" stroke-width="0.3">2</text>
<line x1="381.1" y1="342.7" x2="383.5" y2="342.7" stroke="#1a1a1a" stroke-width="1.2" stroke-linecap="butt"/>
<text x="380.4" y="345.62" font-size="8.6" font-weight="bold" text-anchor="end" fill="#000" stroke="#000" stroke-width="0.3">1</text>
<line x1="381.1" y1="367.4" x2="383.5" y2="367.4" stroke="#1a1a1a" stroke-width="1.2" stroke-linecap="butt"/>
<text x="380.4" y="370.32" font-size="8.6" font-weight="bold" text-anchor="end" fill="#000" stroke="#000" stroke-width="0.3">0</text>
<line x1="417" y1="367.4" x2="417" y2="369.8" stroke="#1a1a1a" stroke-width="1.2" stroke-linecap="butt"/>
<text x="417" y="379.2" font-size="10" font-weight="bold" text-anchor="middle" fill="#000" stroke="#000" stroke-width="0.3">CA</text>
<line x1="484.7" y1="367.4" x2="484.7" y2="369.8" stroke="#1a1a1a" stroke-width="1.2" stroke-linecap="butt"/>
<text x="484.7" y="379.2" font-size="10" font-weight="bold" text-anchor="middle" fill="#000" stroke="#000" stroke-width="0.3">AA</text>
<line x1="417.7" y1="330.5" x2="484" y2="330.5" stroke="#8c8c8c" stroke-width="0.9" stroke-linecap="butt"/>
<text x="446.8" y="329.4" font-size="9.4" font-weight="bold" text-anchor="middle" fill="#000" stroke="#000" stroke-width="0.3">*</text>
</g>
<g>
<line x1="579.9" y1="350" x2="579.9" y2="350.8" stroke="#000" stroke-width="1.4" stroke-linecap="butt"/>
<line x1="571.06" y1="350" x2="588.74" y2="350" stroke="#000" stroke-width="1.4" stroke-linecap="butt"/>
<line x1="647.5" y1="321.3" x2="647.5" y2="325.5" stroke="#000" stroke-width="1.4" stroke-linecap="butt"/>
<line x1="638.61" y1="321.3" x2="656.39" y2="321.3" stroke="#000" stroke-width="1.4" stroke-linecap="butt"/>
<rect x="562.9" y="350.8" width="34" height="16.6" fill="#8080ff" stroke="#000" stroke-width="1.4"/>
<rect x="630.4" y="325.5" width="34.2" height="41.9" fill="#ff0000" stroke="#000" stroke-width="1.4"/>
<line x1="545.5" y1="277.1" x2="545.5" y2="310.6" stroke="#1a1a1a" stroke-width="1.5" stroke-linecap="butt"/>
<line x1="545.5" y1="317.3" x2="545.5" y2="368.15" stroke="#1a1a1a" stroke-width="1.5" stroke-linecap="butt"/>
<line x1="544.75" y1="367.4" x2="680" y2="367.4" stroke="#1a1a1a" stroke-width="1.5" stroke-linecap="butt"/>
<line x1="543.1" y1="288.6" x2="545.5" y2="288.6" stroke="#1a1a1a" stroke-width="1.2" stroke-linecap="butt"/>
<text x="542.4" y="291.52" font-size="8.6" font-weight="bold" text-anchor="end" fill="#000" stroke="#000" stroke-width="0.3">32</text>
<line x1="543.1" y1="310.6" x2="547.9" y2="310.6" stroke="#1a1a1a" stroke-width="1.2" stroke-linecap="butt"/>
<text x="542.4" y="313.52" font-size="8.6" font-weight="bold" text-anchor="end" fill="#000" stroke="#000" stroke-width="0.3">28</text>
<line x1="543.1" y1="317.3" x2="547.9" y2="317.3" stroke="#1a1a1a" stroke-width="1.2" stroke-linecap="butt"/>
<line x1="543.1" y1="334.2" x2="545.5" y2="334.2" stroke="#1a1a1a" stroke-width="1.2" stroke-linecap="butt"/>
<text x="542.4" y="337.12" font-size="8.6" font-weight="bold" text-anchor="end" fill="#000" stroke="#000" stroke-width="0.3">2</text>
<line x1="543.1" y1="367.4" x2="545.5" y2="367.4" stroke="#1a1a1a" stroke-width="1.2" stroke-linecap="butt"/>
<text x="542.4" y="370.32" font-size="8.6" font-weight="bold" text-anchor="end" fill="#000" stroke="#000" stroke-width="0.3">0</text>
<line x1="580" y1="367.4" x2="580" y2="369.8" stroke="#1a1a1a" stroke-width="1.2" stroke-linecap="butt"/>
<text x="580" y="379.2" font-size="10" font-weight="bold" text-anchor="middle" fill="#000" stroke="#000" stroke-width="0.3">CA</text>
<line x1="647.8" y1="367.4" x2="647.8" y2="369.8" stroke="#1a1a1a" stroke-width="1.2" stroke-linecap="butt"/>
<text x="647.8" y="379.2" font-size="10" font-weight="bold" text-anchor="middle" fill="#000" stroke="#000" stroke-width="0.3">AA</text>
<line x1="582.7" y1="315.1" x2="646.5" y2="315.1" stroke="#8c8c8c" stroke-width="0.9" stroke-linecap="butt"/>
<text x="616.7" y="313.3" font-size="9.4" font-weight="bold" text-anchor="middle" fill="#000" stroke="#000" stroke-width="0.3" textLength="12.4" lengthAdjust="spacing">***</text>
</g>
<g>
<line x1="98.25" y1="481.8" x2="98.25" y2="482.4" stroke="#000" stroke-width="1.4" stroke-linecap="butt"/>
<line x1="90.11" y1="481.8" x2="106.39" y2="481.8" stroke="#000" stroke-width="1.4" stroke-linecap="butt"/>
<line x1="159.2" y1="452.5" x2="159.2" y2="455" stroke="#000" stroke-width="1.4" stroke-linecap="butt"/>
<line x1="150.98" y1="452.5" x2="167.42" y2="452.5" stroke="#000" stroke-width="1.4" stroke-linecap="butt"/>
<rect x="82.6" y="482.4" width="31.3" height="7.9" fill="#8080ff" stroke="#000" stroke-width="1.4"/>
<rect x="143.4" y="455" width="31.6" height="35.3" fill="#ff0000" stroke="#000" stroke-width="1.4"/>
<line x1="67.5" y1="399.6" x2="67.5" y2="430.1" stroke="#1a1a1a" stroke-width="1.5" stroke-linecap="butt"/>
<line x1="67.5" y1="435.6" x2="67.5" y2="491.05" stroke="#1a1a1a" stroke-width="1.5" stroke-linecap="butt"/>
<line x1="66.75" y1="490.3" x2="190" y2="490.3" stroke="#1a1a1a" stroke-width="1.5" stroke-linecap="butt"/>
<line x1="65.7" y1="399.6" x2="67.5" y2="399.6" stroke="#1a1a1a" stroke-width="1.2" stroke-linecap="butt"/>
<text x="65.5" y="402.18" font-size="7.6" font-weight="bold" text-anchor="end" fill="#000" stroke="#000" stroke-width="0.3">16</text>
<line x1="65.7" y1="430.1" x2="69.3" y2="430.1" stroke="#1a1a1a" stroke-width="1.2" stroke-linecap="butt"/>
<text x="65.5" y="432.68" font-size="7.6" font-weight="bold" text-anchor="end" fill="#000" stroke="#000" stroke-width="0.3">12</text>
<line x1="65.7" y1="435.6" x2="69.3" y2="435.6" stroke="#1a1a1a" stroke-width="1.2" stroke-linecap="butt"/>
<line x1="65.7" y1="443.5" x2="67.5" y2="443.5" stroke="#1a1a1a" stroke-width="1.2" stroke-linecap="butt"/>
<text x="65.5" y="446.08" font-size="7.6" font-weight="bold" text-anchor="end" fill="#000" stroke="#000" stroke-width="0.3">6</text>
<line x1="65.7" y1="459.2" x2="67.5" y2="459.2" stroke="#1a1a1a" stroke-width="1.2" stroke-linecap="butt"/>
<text x="65.5" y="461.78" font-size="7.6" font-weight="bold" text-anchor="end" fill="#000" stroke="#000" stroke-width="0.3">4</text>
<line x1="65.7" y1="474.8" x2="67.5" y2="474.8" stroke="#1a1a1a" stroke-width="1.2" stroke-linecap="butt"/>
<text x="65.5" y="477.38" font-size="7.6" font-weight="bold" text-anchor="end" fill="#000" stroke="#000" stroke-width="0.3">2</text>
<line x1="65.7" y1="490.3" x2="67.5" y2="490.3" stroke="#1a1a1a" stroke-width="1.2" stroke-linecap="butt"/>
<text x="65.5" y="492.88" font-size="7.6" font-weight="bold" text-anchor="end" fill="#000" stroke="#000" stroke-width="0.3">0</text>
<line x1="98" y1="490.3" x2="98" y2="492.7" stroke="#1a1a1a" stroke-width="1.2" stroke-linecap="butt"/>
<text x="98" y="500.36" font-size="8.5" font-weight="bold" text-anchor="middle" fill="#000" stroke="#000" stroke-width="0.3">N</text>
<line x1="159.6" y1="490.3" x2="159.6" y2="492.7" stroke="#1a1a1a" stroke-width="1.2" stroke-linecap="butt"/>
<text x="159.6" y="500.36" font-size="8.5" font-weight="bold" text-anchor="middle" fill="#000" stroke="#000" stroke-width="0.3">T</text>
<line x1="97.5" y1="447.3" x2="159.6" y2="447.3" stroke="#8c8c8c" stroke-width="0.9" stroke-linecap="butt"/>
<text x="122.3" y="446.2" font-size="9.4" font-weight="bold" text-anchor="middle" fill="#000" stroke="#000" stroke-width="0.3" textLength="12.4" lengthAdjust="spacing">***</text>
</g>
<g>
<line x1="233.25" y1="478.3" x2="233.25" y2="479" stroke="#000" stroke-width="1.4" stroke-linecap="butt"/>
<line x1="227.14" y1="478.3" x2="239.36" y2="478.3" stroke="#000" stroke-width="1.4" stroke-linecap="butt"/>
<line x1="261.95" y1="460" x2="261.95" y2="462.2" stroke="#000" stroke-width="1.4" stroke-linecap="butt"/>
<line x1="255.89" y1="460" x2="268.01" y2="460" stroke="#000" stroke-width="1.4" stroke-linecap="butt"/>
<line x1="330.45" y1="414.5" x2="330.45" y2="418.2" stroke="#000" stroke-width="1.4" stroke-linecap="butt"/>
<line x1="324.5" y1="414.5" x2="336.4" y2="414.5" stroke="#000" stroke-width="1.4" stroke-linecap="butt"/>
<rect x="221.5" y="479" width="23.5" height="13.3" fill="#8080ff" stroke="#000" stroke-width="1.4"/>
<rect x="250.3" y="462.2" width="23.3" height="30.1" fill="#ff0000" stroke="#000" stroke-width="1.4"/>
<rect x="290" y="479.4" width="23.6" height="12.9" fill="#8080ff" stroke="#000" stroke-width="1.4"/>
<rect x="319" y="418.2" width="22.9" height="74.1" fill="#ff0000" stroke="#000" stroke-width="1.4"/>
<rect x="317" y="434.9" width="27" height="6.1" fill="#fff"/>
<line x1="214" y1="400.4" x2="214" y2="434.4" stroke="#1a1a1a" stroke-width="1.5" stroke-linecap="butt"/>
<line x1="214" y1="441.3" x2="214" y2="493.05" stroke="#1a1a1a" stroke-width="1.5" stroke-linecap="butt"/>
<line x1="213.25" y1="492.3" x2="350" y2="492.3" stroke="#1a1a1a" stroke-width="1.5" stroke-linecap="butt"/>
<line x1="211.4" y1="400.4" x2="214" y2="400.4" stroke="#1a1a1a" stroke-width="1.2" stroke-linecap="butt"/>
<text x="210.5" y="403.53" font-size="9.2" font-weight="bold" text-anchor="end" fill="#000" stroke="#000" stroke-width="0.3">16</text>
<line x1="211.4" y1="423.2" x2="214" y2="423.2" stroke="#1a1a1a" stroke-width="1.2" stroke-linecap="butt"/>
<text x="210.5" y="426.33" font-size="9.2" font-weight="bold" text-anchor="end" fill="#000" stroke="#000" stroke-width="0.3">12</text>
<line x1="211.4" y1="434.4" x2="216.6" y2="434.4" stroke="#1a1a1a" stroke-width="1.2" stroke-linecap="butt"/>
<line x1="211.4" y1="441.3" x2="216.6" y2="441.3" stroke="#1a1a1a" stroke-width="1.2" stroke-linecap="butt"/>
<text x="210.5" y="444.43" font-size="9.2" font-weight="bold" text-anchor="end" fill="#000" stroke="#000" stroke-width="0.3">4</text>
<line x1="211.4" y1="492.3" x2="214" y2="492.3" stroke="#1a1a1a" stroke-width="1.2" stroke-linecap="butt"/>
<text x="210.5" y="495.43" font-size="9.2" font-weight="bold" text-anchor="end" fill="#000" stroke="#000" stroke-width="0.3">0</text>
<line x1="246.3" y1="492.3" x2="246.3" y2="494.7" stroke="#1a1a1a" stroke-width="1.2" stroke-linecap="butt"/>
<text x="246.3" y="505.42" font-size="10.9" font-weight="bold" text-anchor="middle" fill="#000" stroke="#000" stroke-width="0.3">CA</text>
<line x1="317.3" y1="492.3" x2="317.3" y2="494.7" stroke="#1a1a1a" stroke-width="1.2" stroke-linecap="butt"/>
<text x="317.3" y="505.42" font-size="10.9" font-weight="bold" text-anchor="middle" fill="#000" stroke="#000" stroke-width="0.3">AA</text>
<line x1="224" y1="449.8" x2="263.7" y2="449.8" stroke="#8c8c8c" stroke-width="0.9" stroke-linecap="butt"/>
<text x="242.1" y="448.4" font-size="9.4" font-weight="bold" text-anchor="middle" fill="#000" stroke="#000" stroke-width="0.3" textLength="12.4" lengthAdjust="spacing">***</text>
<line x1="292.5" y1="408.8" x2="332" y2="408.8" stroke="#8c8c8c" stroke-width="0.9" stroke-linecap="butt"/>
<text x="310.3" y="407.2" font-size="9.4" font-weight="bold" text-anchor="middle" fill="#000" stroke="#000" stroke-width="0.3" textLength="12.4" lengthAdjust="spacing">***</text>
</g>
<g>
<line x1="417" y1="462.9" x2="417" y2="465.4" stroke="#000" stroke-width="1.4" stroke-linecap="butt"/>
<line x1="407.95" y1="462.9" x2="426.05" y2="462.9" stroke="#000" stroke-width="1.4" stroke-linecap="butt"/>
<line x1="484.5" y1="482.4" x2="484.5" y2="482.9" stroke="#000" stroke-width="1.4" stroke-linecap="butt"/>
<line x1="475.45" y1="482.4" x2="493.55" y2="482.4" stroke="#000" stroke-width="1.4" stroke-linecap="butt"/>
<rect x="399.6" y="465.4" width="34.8" height="24.5" fill="#8080ff" stroke="#000" stroke-width="1.4"/>
<rect x="467.1" y="482.9" width="34.8" height="7" fill="#ff0000" stroke="#000" stroke-width="1.4"/>
<line x1="383.5" y1="400.4" x2="383.5" y2="433.6" stroke="#1a1a1a" stroke-width="1.5" stroke-linecap="butt"/>
<line x1="383.5" y1="440.6" x2="383.5" y2="490.65" stroke="#1a1a1a" stroke-width="1.5" stroke-linecap="butt"/>
<line x1="382.75" y1="489.9" x2="520" y2="489.9" stroke="#1a1a1a" stroke-width="1.5" stroke-linecap="butt"/>
<line x1="381.1" y1="400.4" x2="383.5" y2="400.4" stroke="#1a1a1a" stroke-width="1.2" stroke-linecap="butt"/>
<text x="380.4" y="403.32" font-size="8.6" font-weight="bold" text-anchor="end" fill="#000" stroke="#000" stroke-width="0.3">16</text>
<line x1="381.1" y1="433.6" x2="385.9" y2="433.6" stroke="#1a1a1a" stroke-width="1.2" stroke-linecap="butt"/>
<text x="380.4" y="436.52" font-size="8.6" font-weight="bold" text-anchor="end" fill="#000" stroke="#000" stroke-width="0.3">12</text>
<line x1="381.1" y1="440.6" x2="385.9" y2="440.6" stroke="#1a1a1a" stroke-width="1.2" stroke-linecap="butt"/>
<text x="380.4" y="443.52" font-size="8.6" font-weight="bold" text-anchor="end" fill="#000" stroke="#000" stroke-width="0.3">2</text>
<line x1="381.1" y1="465.4" x2="383.5" y2="465.4" stroke="#1a1a1a" stroke-width="1.2" stroke-linecap="butt"/>
<text x="380.4" y="468.32" font-size="8.6" font-weight="bold" text-anchor="end" fill="#000" stroke="#000" stroke-width="0.3">1</text>
<line x1="381.1" y1="489.9" x2="383.5" y2="489.9" stroke="#1a1a1a" stroke-width="1.2" stroke-linecap="butt"/>
<text x="380.4" y="492.82" font-size="8.6" font-weight="bold" text-anchor="end" fill="#000" stroke="#000" stroke-width="0.3">0</text>
<line x1="417" y1="489.9" x2="417" y2="492.3" stroke="#1a1a1a" stroke-width="1.2" stroke-linecap="butt"/>
<text x="417" y="502.1" font-size="10" font-weight="bold" text-anchor="middle" fill="#000" stroke="#000" stroke-width="0.3">CA</text>
<line x1="484.7" y1="489.9" x2="484.7" y2="492.3" stroke="#1a1a1a" stroke-width="1.2" stroke-linecap="butt"/>
<text x="484.7" y="502.1" font-size="10" font-weight="bold" text-anchor="middle" fill="#000" stroke="#000" stroke-width="0.3">AA</text>
<line x1="417.7" y1="448" x2="484" y2="448" stroke="#8c8c8c" stroke-width="0.9" stroke-linecap="butt"/>
<text x="447.3" y="444.9" font-size="9.4" font-weight="bold" text-anchor="middle" fill="#000" stroke="#000" stroke-width="0.3">*</text>
</g>
<g>
<line x1="579.9" y1="482.2" x2="579.9" y2="483.2" stroke="#000" stroke-width="1.4" stroke-linecap="butt"/>
<line x1="571.06" y1="482.2" x2="588.74" y2="482.2" stroke="#000" stroke-width="1.4" stroke-linecap="butt"/>
<line x1="647.5" y1="446.8" x2="647.5" y2="451.7" stroke="#000" stroke-width="1.4" stroke-linecap="butt"/>
<line x1="638.61" y1="446.8" x2="656.39" y2="446.8" stroke="#000" stroke-width="1.4" stroke-linecap="butt"/>
<rect x="562.9" y="483.2" width="34" height="7.1" fill="#8080ff" stroke="#000" stroke-width="1.4"/>
<rect x="630.4" y="451.7" width="34.2" height="38.6" fill="#ff0000" stroke="#000" stroke-width="1.4"/>
<line x1="545.5" y1="400.4" x2="545.5" y2="433.6" stroke="#1a1a1a" stroke-width="1.5" stroke-linecap="butt"/>
<line x1="545.5" y1="440.6" x2="545.5" y2="491.05" stroke="#1a1a1a" stroke-width="1.5" stroke-linecap="butt"/>
<line x1="544.75" y1="490.3" x2="680" y2="490.3" stroke="#1a1a1a" stroke-width="1.5" stroke-linecap="butt"/>
<line x1="543.1" y1="400.4" x2="545.5" y2="400.4" stroke="#1a1a1a" stroke-width="1.2" stroke-linecap="butt"/>
<text x="542.4" y="403.32" font-size="8.6" font-weight="bold" text-anchor="end" fill="#000" stroke="#000" stroke-width="0.3">16</text>
<line x1="543.1" y1="433.6" x2="547.9" y2="433.6" stroke="#1a1a1a" stroke-width="1.2" stroke-linecap="butt"/>
<text x="542.4" y="436.52" font-size="8.6" font-weight="bold" text-anchor="end" fill="#000" stroke="#000" stroke-width="0.3">12</text>
<line x1="543.1" y1="440.6" x2="547.9" y2="440.6" stroke="#1a1a1a" stroke-width="1.2" stroke-linecap="butt"/>
<line x1="543.1" y1="447.3" x2="545.5" y2="447.3" stroke="#1a1a1a" stroke-width="1.2" stroke-linecap="butt"/>
<text x="542.4" y="450.22" font-size="8.6" font-weight="bold" text-anchor="end" fill="#000" stroke="#000" stroke-width="0.3">6</text>
<line x1="543.1" y1="461.7" x2="545.5" y2="461.7" stroke="#1a1a1a" stroke-width="1.2" stroke-linecap="butt"/>
<text x="542.4" y="464.62" font-size="8.6" font-weight="bold" text-anchor="end" fill="#000" stroke="#000" stroke-width="0.3">4</text>
<line x1="543.1" y1="476.1" x2="545.5" y2="476.1" stroke="#1a1a1a" stroke-width="1.2" stroke-linecap="butt"/>
<text x="542.4" y="479.02" font-size="8.6" font-weight="bold" text-anchor="end" fill="#000" stroke="#000" stroke-width="0.3">2</text>
<line x1="543.1" y1="490.3" x2="545.5" y2="490.3" stroke="#1a1a1a" stroke-width="1.2" stroke-linecap="butt"/>
<text x="542.4" y="493.22" font-size="8.6" font-weight="bold" text-anchor="end" fill="#000" stroke="#000" stroke-width="0.3">0</text>
<line x1="580" y1="490.3" x2="580" y2="492.7" stroke="#1a1a1a" stroke-width="1.2" stroke-linecap="butt"/>
<text x="580" y="502.6" font-size="10" font-weight="bold" text-anchor="middle" fill="#000" stroke="#000" stroke-width="0.3">CA</text>
<line x1="647.8" y1="490.3" x2="647.8" y2="492.7" stroke="#1a1a1a" stroke-width="1.2" stroke-linecap="butt"/>
<text x="647.8" y="502.6" font-size="10" font-weight="bold" text-anchor="middle" fill="#000" stroke="#000" stroke-width="0.3">AA</text>
<line x1="582.7" y1="436.4" x2="646.5" y2="436.4" stroke="#8c8c8c" stroke-width="0.9" stroke-linecap="butt"/>
<text x="616.7" y="434" font-size="9.4" font-weight="bold" text-anchor="middle" fill="#000" stroke="#000" stroke-width="0.3" textLength="12.4" lengthAdjust="spacing">***</text>
</g>
<g>
<line x1="159.2" y1="568.8" x2="159.2" y2="571" stroke="#000" stroke-width="1.4" stroke-linecap="butt"/>
<line x1="150.98" y1="568.8" x2="167.42" y2="568.8" stroke="#000" stroke-width="1.4" stroke-linecap="butt"/>
<rect x="82.6" y="617.3" width="31.3" height="1.2" fill="#8080ff" stroke="#000" stroke-width="1.4"/>
<rect x="143.4" y="571" width="31.6" height="47.5" fill="#ff0000" stroke="#000" stroke-width="1.4"/>
<line x1="68.2" y1="528.3" x2="68.2" y2="562.3" stroke="#1a1a1a" stroke-width="1.5" stroke-linecap="butt"/>
<line x1="68.2" y1="568.5" x2="68.2" y2="619.25" stroke="#1a1a1a" stroke-width="1.5" stroke-linecap="butt"/>
<line x1="67.45" y1="618.5" x2="190" y2="618.5" stroke="#1a1a1a" stroke-width="1.5" stroke-linecap="butt"/>
<line x1="66.4" y1="541.2" x2="68.2" y2="541.2" stroke="#1a1a1a" stroke-width="1.2" stroke-linecap="butt"/>
<text x="65.2" y="543.78" font-size="7.6" font-weight="bold" text-anchor="end" fill="#000" stroke="#000" stroke-width="0.3">60</text>
<line x1="66.4" y1="562.3" x2="70" y2="562.3" stroke="#1a1a1a" stroke-width="1.2" stroke-linecap="butt"/>
<text x="65.2" y="564.88" font-size="7.6" font-weight="bold" text-anchor="end" fill="#000" stroke="#000" stroke-width="0.3">50</text>
<line x1="66.4" y1="568.5" x2="70" y2="568.5" stroke="#1a1a1a" stroke-width="1.2" stroke-linecap="butt"/>
<line x1="66.4" y1="576.7" x2="68.2" y2="576.7" stroke="#1a1a1a" stroke-width="1.2" stroke-linecap="butt"/>
<text x="65.2" y="579.28" font-size="7.6" font-weight="bold" text-anchor="end" fill="#000" stroke="#000" stroke-width="0.3">40</text>
<line x1="66.4" y1="587.1" x2="68.2" y2="587.1" stroke="#1a1a1a" stroke-width="1.2" stroke-linecap="butt"/>
<text x="65.2" y="589.68" font-size="7.6" font-weight="bold" text-anchor="end" fill="#000" stroke="#000" stroke-width="0.3">30</text>
<line x1="66.4" y1="597.5" x2="68.2" y2="597.5" stroke="#1a1a1a" stroke-width="1.2" stroke-linecap="butt"/>
<text x="65.2" y="600.08" font-size="7.6" font-weight="bold" text-anchor="end" fill="#000" stroke="#000" stroke-width="0.3">20</text>
<line x1="66.4" y1="608" x2="68.2" y2="608" stroke="#1a1a1a" stroke-width="1.2" stroke-linecap="butt"/>
<text x="65.2" y="610.58" font-size="7.6" font-weight="bold" text-anchor="end" fill="#000" stroke="#000" stroke-width="0.3">10</text>
<line x1="66.4" y1="618.5" x2="68.2" y2="618.5" stroke="#1a1a1a" stroke-width="1.2" stroke-linecap="butt"/>
<text x="65.2" y="621.08" font-size="7.6" font-weight="bold" text-anchor="end" fill="#000" stroke="#000" stroke-width="0.3">0</text>
<line x1="98" y1="618.5" x2="98" y2="620.9" stroke="#1a1a1a" stroke-width="1.2" stroke-linecap="butt"/>
<text x="98" y="629.06" font-size="8.5" font-weight="bold" text-anchor="middle" fill="#000" stroke="#000" stroke-width="0.3">N</text>
<line x1="159.6" y1="618.5" x2="159.6" y2="620.9" stroke="#1a1a1a" stroke-width="1.2" stroke-linecap="butt"/>
<text x="159.6" y="629.06" font-size="8.5" font-weight="bold" text-anchor="middle" fill="#000" stroke="#000" stroke-width="0.3">T</text>
<line x1="97.5" y1="558.1" x2="159.6" y2="558.1" stroke="#8c8c8c" stroke-width="0.9" stroke-linecap="butt"/>
<text x="122.3" y="556.5" font-size="9.4" font-weight="bold" text-anchor="middle" fill="#000" stroke="#000" stroke-width="0.3" textLength="12.4" lengthAdjust="spacing">***</text>
</g>
<g>
<line x1="263.2" y1="568.5" x2="263.2" y2="571" stroke="#000" stroke-width="1.4" stroke-linecap="butt"/>
<line x1="257.38" y1="568.5" x2="269.02" y2="568.5" stroke="#000" stroke-width="1.4" stroke-linecap="butt"/>
<line x1="331.2" y1="534" x2="331.2" y2="538.2" stroke="#000" stroke-width="1.4" stroke-linecap="butt"/>
<line x1="325.27" y1="534" x2="337.13" y2="534" stroke="#000" stroke-width="1.4" stroke-linecap="butt"/>
<rect x="223" y="619" width="23.6" height="1.3" fill="#8080ff" stroke="#000" stroke-width="1.4"/>
<rect x="252" y="571" width="22.4" height="49.3" fill="#ff0000" stroke="#000" stroke-width="1.4"/>
<rect x="291" y="619" width="23" height="1.3" fill="#8080ff" stroke="#000" stroke-width="1.4"/>
<rect x="319.8" y="538.2" width="22.8" height="82.1" fill="#ff0000" stroke="#000" stroke-width="1.4"/>
<line x1="214.8" y1="529" x2="214.8" y2="621.05" stroke="#1a1a1a" stroke-width="1.5" stroke-linecap="butt"/>
<line x1="214.05" y1="620.3" x2="352" y2="620.3" stroke="#1a1a1a" stroke-width="1.5" stroke-linecap="butt"/>
<line x1="212.2" y1="540.2" x2="214.8" y2="540.2" stroke="#1a1a1a" stroke-width="1.2" stroke-linecap="butt"/>
<text x="211.3" y="543.26" font-size="9" font-weight="bold" text-anchor="end" fill="#000" stroke="#000" stroke-width="0.3">60</text>
<line x1="212.2" y1="553.6" x2="214.8" y2="553.6" stroke="#1a1a1a" stroke-width="1.2" stroke-linecap="butt"/>
<text x="211.3" y="556.66" font-size="9" font-weight="bold" text-anchor="end" fill="#000" stroke="#000" stroke-width="0.3">50</text>
<line x1="212.2" y1="567" x2="214.8" y2="567" stroke="#1a1a1a" stroke-width="1.2" stroke-linecap="butt"/>
<text x="211.3" y="570.06" font-size="9" font-weight="bold" text-anchor="end" fill="#000" stroke="#000" stroke-width="0.3">40</text>
<line x1="212.2" y1="580.4" x2="214.8" y2="580.4" stroke="#1a1a1a" stroke-width="1.2" stroke-linecap="butt"/>
<text x="211.3" y="583.46" font-size="9" font-weight="bold" text-anchor="end" fill="#000" stroke="#000" stroke-width="0.3">30</text>
<line x1="212.2" y1="593.8" x2="214.8" y2="593.8" stroke="#1a1a1a" stroke-width="1.2" stroke-linecap="butt"/>
<text x="211.3" y="596.86" font-size="9" font-weight="bold" text-anchor="end" fill="#000" stroke="#000" stroke-width="0.3">20</text>
<line x1="212.2" y1="607.2" x2="214.8" y2="607.2" stroke="#1a1a1a" stroke-width="1.2" stroke-linecap="butt"/>
<text x="211.3" y="610.26" font-size="9" font-weight="bold" text-anchor="end" fill="#000" stroke="#000" stroke-width="0.3">10</text>
<line x1="212.2" y1="620.3" x2="214.8" y2="620.3" stroke="#1a1a1a" stroke-width="1.2" stroke-linecap="butt"/>
<text x="211.3" y="623.36" font-size="9" font-weight="bold" text-anchor="end" fill="#000" stroke="#000" stroke-width="0.3">0</text>
<line x1="247" y1="620.3" x2="247" y2="622.7" stroke="#1a1a1a" stroke-width="1.2" stroke-linecap="butt"/>
<text x="247" y="633.12" font-size="10.9" font-weight="bold" text-anchor="middle" fill="#000" stroke="#000" stroke-width="0.3">CA</text>
<line x1="318.3" y1="620.3" x2="318.3" y2="622.7" stroke="#1a1a1a" stroke-width="1.2" stroke-linecap="butt"/>
<text x="318.3" y="633.12" font-size="10.9" font-weight="bold" text-anchor="middle" fill="#000" stroke="#000" stroke-width="0.3">AA</text>
<line x1="224.7" y1="562" x2="264.4" y2="562" stroke="#8c8c8c" stroke-width="0.9" stroke-linecap="butt"/>
<text x="244.6" y="560.7" font-size="9.4" font-weight="bold" text-anchor="middle" fill="#000" stroke="#000" stroke-width="0.3" textLength="12.4" lengthAdjust="spacing">***</text>
<line x1="292.5" y1="530" x2="332.2" y2="530" stroke="#8c8c8c" stroke-width="0.9" stroke-linecap="butt"/>
<text x="312.3" y="528.9" font-size="9.4" font-weight="bold" text-anchor="middle" fill="#000" stroke="#000" stroke-width="0.3" textLength="12.4" lengthAdjust="spacing">***</text>
</g>
<g>
<line x1="417" y1="601.4" x2="417" y2="601.9" stroke="#000" stroke-width="1.4" stroke-linecap="butt"/>
<line x1="407.95" y1="601.4" x2="426.05" y2="601.4" stroke="#000" stroke-width="1.4" stroke-linecap="butt"/>
<line x1="484.65" y1="611.3" x2="484.65" y2="611.8" stroke="#000" stroke-width="1.4" stroke-linecap="butt"/>
<line x1="475.68" y1="611.3" x2="493.62" y2="611.3" stroke="#000" stroke-width="1.4" stroke-linecap="butt"/>
<rect x="399.6" y="601.9" width="34.8" height="16.6" fill="#8080ff" stroke="#000" stroke-width="1.4"/>
<rect x="467.4" y="611.8" width="34.5" height="6.7" fill="#ff0000" stroke="#000" stroke-width="1.4"/>
<line x1="383.5" y1="528.3" x2="383.5" y2="562.3" stroke="#1a1a1a" stroke-width="1.5" stroke-linecap="butt"/>
<line x1="383.5" y1="568.8" x2="383.5" y2="619.25" stroke="#1a1a1a" stroke-width="1.5" stroke-linecap="butt"/>
<line x1="382.75" y1="618.5" x2="520" y2="618.5" stroke="#1a1a1a" stroke-width="1.5" stroke-linecap="butt"/>
<line x1="381.1" y1="541.2" x2="383.5" y2="541.2" stroke="#1a1a1a" stroke-width="1.2" stroke-linecap="butt"/>
<text x="380.4" y="544.12" font-size="8.6" font-weight="bold" text-anchor="end" fill="#000" stroke="#000" stroke-width="0.3">60</text>
<line x1="381.1" y1="562.3" x2="385.9" y2="562.3" stroke="#1a1a1a" stroke-width="1.2" stroke-linecap="butt"/>
<text x="380.4" y="565.22" font-size="8.6" font-weight="bold" text-anchor="end" fill="#000" stroke="#000" stroke-width="0.3">50</text>
<line x1="381.1" y1="568.8" x2="385.9" y2="568.8" stroke="#1a1a1a" stroke-width="1.2" stroke-linecap="butt"/>
<text x="380.4" y="571.72" font-size="8.6" font-weight="bold" text-anchor="end" fill="#000" stroke="#000" stroke-width="0.3">3</text>
<line x1="381.1" y1="585.4" x2="383.5" y2="585.4" stroke="#1a1a1a" stroke-width="1.2" stroke-linecap="butt"/>
<text x="380.4" y="588.32" font-size="8.6" font-weight="bold" text-anchor="end" fill="#000" stroke="#000" stroke-width="0.3">2</text>
<line x1="381.1" y1="601.9" x2="383.5" y2="601.9" stroke="#1a1a1a" stroke-width="1.2" stroke-linecap="butt"/>
<text x="380.4" y="604.82" font-size="8.6" font-weight="bold" text-anchor="end" fill="#000" stroke="#000" stroke-width="0.3">1</text>
<line x1="381.1" y1="618.5" x2="383.5" y2="618.5" stroke="#1a1a1a" stroke-width="1.2" stroke-linecap="butt"/>
<text x="380.4" y="621.42" font-size="8.6" font-weight="bold" text-anchor="end" fill="#000" stroke="#000" stroke-width="0.3">0</text>
<line x1="417" y1="618.5" x2="417" y2="620.9" stroke="#1a1a1a" stroke-width="1.2" stroke-linecap="butt"/>
<text x="417" y="630.8" font-size="10" font-weight="bold" text-anchor="middle" fill="#000" stroke="#000" stroke-width="0.3">CA</text>
<line x1="485.2" y1="618.5" x2="485.2" y2="620.9" stroke="#1a1a1a" stroke-width="1.2" stroke-linecap="butt"/>
<text x="485.2" y="630.8" font-size="10" font-weight="bold" text-anchor="middle" fill="#000" stroke="#000" stroke-width="0.3">AA</text>
<line x1="417.7" y1="590.8" x2="484" y2="590.8" stroke="#8c8c8c" stroke-width="0.9" stroke-linecap="butt"/>
<text x="446.8" y="589.3" font-size="9.4" font-weight="bold" text-anchor="middle" fill="#000" stroke="#000" stroke-width="0.3" textLength="8.2" lengthAdjust="spacing">**</text>
</g>
<g>
<line x1="579.9" y1="601.4" x2="579.9" y2="601.9" stroke="#000" stroke-width="1.4" stroke-linecap="butt"/>
<line x1="571.06" y1="601.4" x2="588.74" y2="601.4" stroke="#000" stroke-width="1.4" stroke-linecap="butt"/>
<line x1="647.5" y1="590.6" x2="647.5" y2="591.1" stroke="#000" stroke-width="1.4" stroke-linecap="butt"/>
<line x1="638.61" y1="590.6" x2="656.39" y2="590.6" stroke="#000" stroke-width="1.4" stroke-linecap="butt"/>
<rect x="562.9" y="601.9" width="34" height="16.6" fill="#8080ff" stroke="#000" stroke-width="1.4"/>
<rect x="630.4" y="591.1" width="34.2" height="27.4" fill="#ff0000" stroke="#000" stroke-width="1.4"/>
<line x1="545.5" y1="528.3" x2="545.5" y2="562.3" stroke="#1a1a1a" stroke-width="1.5" stroke-linecap="butt"/>
<line x1="545.5" y1="568.8" x2="545.5" y2="619.25" stroke="#1a1a1a" stroke-width="1.5" stroke-linecap="butt"/>
<line x1="544.75" y1="618.5" x2="680" y2="618.5" stroke="#1a1a1a" stroke-width="1.5" stroke-linecap="butt"/>
<line x1="543.1" y1="541.2" x2="545.5" y2="541.2" stroke="#1a1a1a" stroke-width="1.2" stroke-linecap="butt"/>
<text x="542.4" y="544.12" font-size="8.6" font-weight="bold" text-anchor="end" fill="#000" stroke="#000" stroke-width="0.3">60</text>
<line x1="543.1" y1="562.3" x2="547.9" y2="562.3" stroke="#1a1a1a" stroke-width="1.2" stroke-linecap="butt"/>
<text x="542.4" y="565.22" font-size="8.6" font-weight="bold" text-anchor="end" fill="#000" stroke="#000" stroke-width="0.3">50</text>
<line x1="543.1" y1="568.8" x2="547.9" y2="568.8" stroke="#1a1a1a" stroke-width="1.2" stroke-linecap="butt"/>
<text x="542.4" y="571.72" font-size="8.6" font-weight="bold" text-anchor="end" fill="#000" stroke="#000" stroke-width="0.3">3</text>
<line x1="543.1" y1="585.4" x2="545.5" y2="585.4" stroke="#1a1a1a" stroke-width="1.2" stroke-linecap="butt"/>
<text x="542.4" y="588.32" font-size="8.6" font-weight="bold" text-anchor="end" fill="#000" stroke="#000" stroke-width="0.3">2</text>
<line x1="543.1" y1="601.9" x2="545.5" y2="601.9" stroke="#1a1a1a" stroke-width="1.2" stroke-linecap="butt"/>
<text x="542.4" y="604.82" font-size="8.6" font-weight="bold" text-anchor="end" fill="#000" stroke="#000" stroke-width="0.3">1</text>
<line x1="543.1" y1="618.5" x2="545.5" y2="618.5" stroke="#1a1a1a" stroke-width="1.2" stroke-linecap="butt"/>
<text x="542.4" y="621.42" font-size="8.6" font-weight="bold" text-anchor="end" fill="#000" stroke="#000" stroke-width="0.3">0</text>
<line x1="580" y1="618.5" x2="580" y2="620.9" stroke="#1a1a1a" stroke-width="1.2" stroke-linecap="butt"/>
<text x="580" y="630.8" font-size="10" font-weight="bold" text-anchor="middle" fill="#000" stroke="#000" stroke-width="0.3">CA</text>
<line x1="647.8" y1="618.5" x2="647.8" y2="620.9" stroke="#1a1a1a" stroke-width="1.2" stroke-linecap="butt"/>
<text x="647.8" y="630.8" font-size="10" font-weight="bold" text-anchor="middle" fill="#000" stroke="#000" stroke-width="0.3">AA</text>
<line x1="576.3" y1="578.7" x2="640.8" y2="578.7" stroke="#8c8c8c" stroke-width="0.9" stroke-linecap="butt"/>
<text x="612.5" y="577.6" font-size="9.4" font-weight="bold" text-anchor="middle" fill="#000" stroke="#000" stroke-width="0.3" textLength="12.4" lengthAdjust="spacing">***</text>
</g>
<g>
<line x1="100.15" y1="726.8" x2="100.15" y2="728.5" stroke="#000" stroke-width="1.4" stroke-linecap="butt"/>
<line x1="91.96" y1="726.8" x2="108.34" y2="726.8" stroke="#000" stroke-width="1.4" stroke-linecap="butt"/>
<line x1="163.3" y1="712.4" x2="163.3" y2="715.6" stroke="#000" stroke-width="1.4" stroke-linecap="butt"/>
<line x1="155.14" y1="712.4" x2="171.46" y2="712.4" stroke="#000" stroke-width="1.4" stroke-linecap="butt"/>
<rect x="84.4" y="728.5" width="31.5" height="17.2" fill="#8080ff" stroke="#000" stroke-width="1.4"/>
<rect x="147.6" y="715.6" width="31.4" height="30.1" fill="#ff0000" stroke="#000" stroke-width="1.4"/>
<line x1="68.2" y1="652" x2="68.2" y2="686.8" stroke="#1a1a1a" stroke-width="1.5" stroke-linecap="butt"/>
<line x1="68.2" y1="693.7" x2="68.2" y2="746.45" stroke="#1a1a1a" stroke-width="1.5" stroke-linecap="butt"/>
<line x1="67.45" y1="745.7" x2="190" y2="745.7" stroke="#1a1a1a" stroke-width="1.5" stroke-linecap="butt"/>
<line x1="66.4" y1="664" x2="68.2" y2="664" stroke="#1a1a1a" stroke-width="1.2" stroke-linecap="butt"/>
<text x="66.2" y="666.58" font-size="7.6" font-weight="bold" text-anchor="end" fill="#000" stroke="#000" stroke-width="0.3">16</text>
<line x1="66.4" y1="686.8" x2="70" y2="686.8" stroke="#1a1a1a" stroke-width="1.2" stroke-linecap="butt"/>
<text x="66.2" y="689.38" font-size="7.6" font-weight="bold" text-anchor="end" fill="#000" stroke="#000" stroke-width="0.3">12</text>
<line x1="66.4" y1="693.7" x2="70" y2="693.7" stroke="#1a1a1a" stroke-width="1.2" stroke-linecap="butt"/>
<text x="66.2" y="696.28" font-size="7.6" font-weight="bold" text-anchor="end" fill="#000" stroke="#000" stroke-width="0.3">3</text>
<line x1="66.4" y1="711" x2="68.2" y2="711" stroke="#1a1a1a" stroke-width="1.2" stroke-linecap="butt"/>
<text x="66.2" y="713.58" font-size="7.6" font-weight="bold" text-anchor="end" fill="#000" stroke="#000" stroke-width="0.3">2</text>
<line x1="66.4" y1="728.5" x2="68.2" y2="728.5" stroke="#1a1a1a" stroke-width="1.2" stroke-linecap="butt"/>
<text x="66.2" y="731.08" font-size="7.6" font-weight="bold" text-anchor="end" fill="#000" stroke="#000" stroke-width="0.3">1</text>
<line x1="66.4" y1="745.7" x2="68.2" y2="745.7" stroke="#1a1a1a" stroke-width="1.2" stroke-linecap="butt"/>
<text x="66.2" y="748.28" font-size="7.6" font-weight="bold" text-anchor="end" fill="#000" stroke="#000" stroke-width="0.3">0</text>
<line x1="99.8" y1="745.7" x2="99.8" y2="748.1" stroke="#1a1a1a" stroke-width="1.2" stroke-linecap="butt"/>
<text x="99.8" y="756.36" font-size="8.5" font-weight="bold" text-anchor="middle" fill="#000" stroke="#000" stroke-width="0.3">N</text>
<line x1="163.3" y1="745.7" x2="163.3" y2="748.1" stroke="#1a1a1a" stroke-width="1.2" stroke-linecap="butt"/>
<text x="163.3" y="756.36" font-size="8.5" font-weight="bold" text-anchor="middle" fill="#000" stroke="#000" stroke-width="0.3">T</text>
<line x1="96.8" y1="702.2" x2="161.3" y2="702.2" stroke="#8c8c8c" stroke-width="0.9" stroke-linecap="butt"/>
<text x="122.3" y="700.6" font-size="9.4" font-weight="bold" text-anchor="middle" fill="#000" stroke="#000" stroke-width="0.3" textLength="12.4" lengthAdjust="spacing">***</text>
</g>
<g>
<line x1="234.4" y1="736.2" x2="234.4" y2="737.2" stroke="#000" stroke-width="1.4" stroke-linecap="butt"/>
<line x1="228.47" y1="736.2" x2="240.33" y2="736.2" stroke="#000" stroke-width="1.4" stroke-linecap="butt"/>
<line x1="262.2" y1="741" x2="262.2" y2="741.7" stroke="#000" stroke-width="1.4" stroke-linecap="butt"/>
<line x1="256.27" y1="741" x2="268.13" y2="741" stroke="#000" stroke-width="1.4" stroke-linecap="butt"/>
<line x1="301.4" y1="736" x2="301.4" y2="737.2" stroke="#000" stroke-width="1.4" stroke-linecap="butt"/>
<line x1="295.47" y1="736" x2="307.33" y2="736" stroke="#000" stroke-width="1.4" stroke-linecap="butt"/>
<line x1="329.45" y1="669.4" x2="329.45" y2="676.8" stroke="#000" stroke-width="1.4" stroke-linecap="butt"/>
<line x1="323.65" y1="669.4" x2="335.25" y2="669.4" stroke="#000" stroke-width="1.4" stroke-linecap="butt"/>
<rect x="223" y="737.2" width="22.8" height="8.7" fill="#8080ff" stroke="#000" stroke-width="1.4"/>
<rect x="250.8" y="741.7" width="22.8" height="4.2" fill="#ff0000" stroke="#000" stroke-width="1.4"/>
<rect x="290" y="737.2" width="22.8" height="8.7" fill="#8080ff" stroke="#000" stroke-width="1.4"/>
<rect x="318.3" y="676.8" width="22.3" height="69.1" fill="#ff0000" stroke="#000" stroke-width="1.4"/>
<line x1="214.8" y1="657" x2="214.8" y2="746.65" stroke="#1a1a1a" stroke-width="1.5" stroke-linecap="butt"/>
<line x1="214.05" y1="745.9" x2="350" y2="745.9" stroke="#1a1a1a" stroke-width="1.5" stroke-linecap="butt"/>
<line x1="212.2" y1="657" x2="214.8" y2="657" stroke="#1a1a1a" stroke-width="1.2" stroke-linecap="butt"/>
<text x="211.3" y="660.06" font-size="9" font-weight="bold" text-anchor="end" fill="#000" stroke="#000" stroke-width="0.3">10</text>
<line x1="212.2" y1="674.9" x2="214.8" y2="674.9" stroke="#1a1a1a" stroke-width="1.2" stroke-linecap="butt"/>
<text x="211.3" y="677.96" font-size="9" font-weight="bold" text-anchor="end" fill="#000" stroke="#000" stroke-width="0.3">8</text>
<line x1="212.2" y1="693" x2="214.8" y2="693" stroke="#1a1a1a" stroke-width="1.2" stroke-linecap="butt"/>
<text x="211.3" y="696.06" font-size="9" font-weight="bold" text-anchor="end" fill="#000" stroke="#000" stroke-width="0.3">6</text>
<line x1="212.2" y1="710.6" x2="214.8" y2="710.6" stroke="#1a1a1a" stroke-width="1.2" stroke-linecap="butt"/>
<text x="211.3" y="713.66" font-size="9" font-weight="bold" text-anchor="end" fill="#000" stroke="#000" stroke-width="0.3">4</text>
<line x1="212.2" y1="728.2" x2="214.8" y2="728.2" stroke="#1a1a1a" stroke-width="1.2" stroke-linecap="butt"/>
<text x="211.3" y="731.26" font-size="9" font-weight="bold" text-anchor="end" fill="#000" stroke="#000" stroke-width="0.3">2</text>
<line x1="212.2" y1="745.9" x2="214.8" y2="745.9" stroke="#1a1a1a" stroke-width="1.2" stroke-linecap="butt"/>
<text x="211.3" y="748.96" font-size="9" font-weight="bold" text-anchor="end" fill="#000" stroke="#000" stroke-width="0.3">0</text>
<line x1="245.8" y1="745.9" x2="245.8" y2="748.3" stroke="#1a1a1a" stroke-width="1.2" stroke-linecap="butt"/>
<text x="245.8" y="760.52" font-size="10.9" font-weight="bold" text-anchor="middle" fill="#000" stroke="#000" stroke-width="0.3">CA</text>
<line x1="316.6" y1="745.9" x2="316.6" y2="748.3" stroke="#1a1a1a" stroke-width="1.2" stroke-linecap="butt"/>
<text x="316.6" y="760.52" font-size="10.9" font-weight="bold" text-anchor="middle" fill="#000" stroke="#000" stroke-width="0.3">AA</text>
<line x1="227.2" y1="721.8" x2="262" y2="721.8" stroke="#8c8c8c" stroke-width="0.9" stroke-linecap="butt"/>
<text x="248.8" y="721.8" font-size="9.4" font-weight="bold" text-anchor="middle" fill="#000" stroke="#000" stroke-width="0.3">*</text>
<line x1="294.2" y1="662" x2="329" y2="662" stroke="#8c8c8c" stroke-width="0.9" stroke-linecap="butt"/>
<text x="315.3" y="660.9" font-size="9.4" font-weight="bold" text-anchor="middle" fill="#000" stroke="#000" stroke-width="0.3" textLength="12.4" lengthAdjust="spacing">***</text>
</g>
<g>
<line x1="415.65" y1="727.3" x2="415.65" y2="728.5" stroke="#000" stroke-width="1.4" stroke-linecap="butt"/>
<line x1="406.94" y1="727.3" x2="424.36" y2="727.3" stroke="#000" stroke-width="1.4" stroke-linecap="butt"/>
<line x1="481.35" y1="740.4" x2="481.35" y2="741.2" stroke="#000" stroke-width="1.4" stroke-linecap="butt"/>
<line x1="472.64" y1="740.4" x2="490.06" y2="740.4" stroke="#000" stroke-width="1.4" stroke-linecap="butt"/>
<rect x="398.9" y="728.5" width="33.5" height="16.2" fill="#8080ff" stroke="#000" stroke-width="1.4"/>
<rect x="464.6" y="741.2" width="33.5" height="3.5" fill="#ff0000" stroke="#000" stroke-width="1.4"/>
<line x1="383.5" y1="657.5" x2="383.5" y2="690" stroke="#1a1a1a" stroke-width="1.5" stroke-linecap="butt"/>
<line x1="383.5" y1="696.7" x2="383.5" y2="745.45" stroke="#1a1a1a" stroke-width="1.5" stroke-linecap="butt"/>
<line x1="382.75" y1="744.7" x2="515" y2="744.7" stroke="#1a1a1a" stroke-width="1.5" stroke-linecap="butt"/>
<line x1="381.1" y1="668.7" x2="383.5" y2="668.7" stroke="#1a1a1a" stroke-width="1.2" stroke-linecap="butt"/>
<text x="380.4" y="671.49" font-size="8.2" font-weight="bold" text-anchor="end" fill="#000" stroke="#000" stroke-width="0.3">16</text>
<line x1="381.1" y1="690" x2="385.9" y2="690" stroke="#1a1a1a" stroke-width="1.2" stroke-linecap="butt"/>
<text x="380.4" y="692.79" font-size="8.2" font-weight="bold" text-anchor="end" fill="#000" stroke="#000" stroke-width="0.3">12</text>
<line x1="381.1" y1="696.7" x2="385.9" y2="696.7" stroke="#1a1a1a" stroke-width="1.2" stroke-linecap="butt"/>
<text x="380.4" y="699.49" font-size="8.2" font-weight="bold" text-anchor="end" fill="#000" stroke="#000" stroke-width="0.3">3</text>
<line x1="381.1" y1="712.6" x2="383.5" y2="712.6" stroke="#1a1a1a" stroke-width="1.2" stroke-linecap="butt"/>
<text x="380.4" y="715.39" font-size="8.2" font-weight="bold" text-anchor="end" fill="#000" stroke="#000" stroke-width="0.3">2</text>
<line x1="381.1" y1="728.6" x2="383.5" y2="728.6" stroke="#1a1a1a" stroke-width="1.2" stroke-linecap="butt"/>
<text x="380.4" y="731.39" font-size="8.2" font-weight="bold" text-anchor="end" fill="#000" stroke="#000" stroke-width="0.3">1</text>
<line x1="381.1" y1="744.7" x2="383.5" y2="744.7" stroke="#1a1a1a" stroke-width="1.2" stroke-linecap="butt"/>
<text x="380.4" y="747.49" font-size="8.2" font-weight="bold" text-anchor="end" fill="#000" stroke="#000" stroke-width="0.3">0</text>
<line x1="415.3" y1="744.7" x2="415.3" y2="747.1" stroke="#1a1a1a" stroke-width="1.2" stroke-linecap="butt"/>
<text x="415.3" y="756.05" font-size="9.3" font-weight="bold" text-anchor="middle" fill="#000" stroke="#000" stroke-width="0.3">CA</text>
<line x1="481" y1="744.7" x2="481" y2="747.1" stroke="#1a1a1a" stroke-width="1.2" stroke-linecap="butt"/>
<text x="481" y="756.05" font-size="9.3" font-weight="bold" text-anchor="middle" fill="#000" stroke="#000" stroke-width="0.3">AA</text>
<line x1="416.3" y1="714" x2="480.3" y2="714" stroke="#8c8c8c" stroke-width="0.9" stroke-linecap="butt"/>
<text x="444.3" y="713.8" font-size="9.4" font-weight="bold" text-anchor="middle" fill="#000" stroke="#000" stroke-width="0.3">*</text>
</g>
<g>
<line x1="642.55" y1="665.2" x2="642.55" y2="669.4" stroke="#000" stroke-width="1.4" stroke-linecap="butt"/>
<line x1="634.05" y1="665.2" x2="651.05" y2="665.2" stroke="#000" stroke-width="1.4" stroke-linecap="butt"/>
<rect x="559.7" y="739.7" width="34" height="5" fill="#8080ff" stroke="#000" stroke-width="1.4"/>
<rect x="626.2" y="669.4" width="32.7" height="75.3" fill="#ff0000" stroke="#000" stroke-width="1.4"/>
<line x1="544.3" y1="657" x2="544.3" y2="745.45" stroke="#1a1a1a" stroke-width="1.5" stroke-linecap="butt"/>
<line x1="543.55" y1="744.7" x2="675" y2="744.7" stroke="#1a1a1a" stroke-width="1.5" stroke-linecap="butt"/>
<line x1="541.9" y1="657" x2="544.3" y2="657" stroke="#1a1a1a" stroke-width="1.2" stroke-linecap="butt"/>
<text x="541.5" y="659.55" font-size="7.5" font-weight="bold" text-anchor="end" fill="#000" stroke="#000" stroke-width="0.3">18</text>
<line x1="541.9" y1="667.2" x2="544.3" y2="667.2" stroke="#1a1a1a" stroke-width="1.2" stroke-linecap="butt"/>
<text x="541.5" y="669.75" font-size="7.5" font-weight="bold" text-anchor="end" fill="#000" stroke="#000" stroke-width="0.3">16</text>
<line x1="541.9" y1="676.8" x2="544.3" y2="676.8" stroke="#1a1a1a" stroke-width="1.2" stroke-linecap="butt"/>
<text x="541.5" y="679.35" font-size="7.5" font-weight="bold" text-anchor="end" fill="#000" stroke="#000" stroke-width="0.3">14</text>
<line x1="541.9" y1="686.8" x2="544.3" y2="686.8" stroke="#1a1a1a" stroke-width="1.2" stroke-linecap="butt"/>
<text x="541.5" y="689.35" font-size="7.5" font-weight="bold" text-anchor="end" fill="#000" stroke="#000" stroke-width="0.3">12</text>
<line x1="541.9" y1="696.5" x2="544.3" y2="696.5" stroke="#1a1a1a" stroke-width="1.2" stroke-linecap="butt"/>
<text x="541.5" y="699.05" font-size="7.5" font-weight="bold" text-anchor="end" fill="#000" stroke="#000" stroke-width="0.3">10</text>
<line x1="541.9" y1="706.2" x2="544.3" y2="706.2" stroke="#1a1a1a" stroke-width="1.2" stroke-linecap="butt"/>
<text x="541.5" y="708.75" font-size="7.5" font-weight="bold" text-anchor="end" fill="#000" stroke="#000" stroke-width="0.3">8</text>
<line x1="541.9" y1="715.9" x2="544.3" y2="715.9" stroke="#1a1a1a" stroke-width="1.2" stroke-linecap="butt"/>
<text x="541.5" y="718.45" font-size="7.5" font-weight="bold" text-anchor="end" fill="#000" stroke="#000" stroke-width="0.3">6</text>
<line x1="541.9" y1="725.6" x2="544.3" y2="725.6" stroke="#1a1a1a" stroke-width="1.2" stroke-linecap="butt"/>
<text x="541.5" y="728.15" font-size="7.5" font-weight="bold" text-anchor="end" fill="#000" stroke="#000" stroke-width="0.3">4</text>
<line x1="541.9" y1="735.2" x2="544.3" y2="735.2" stroke="#1a1a1a" stroke-width="1.2" stroke-linecap="butt"/>
<text x="541.5" y="737.75" font-size="7.5" font-weight="bold" text-anchor="end" fill="#000" stroke="#000" stroke-width="0.3">2</text>
<line x1="541.9" y1="744.7" x2="544.3" y2="744.7" stroke="#1a1a1a" stroke-width="1.2" stroke-linecap="butt"/>
<text x="541.5" y="747.25" font-size="7.5" font-weight="bold" text-anchor="end" fill="#000" stroke="#000" stroke-width="0.3">0</text>
<line x1="576.3" y1="744.7" x2="576.3" y2="747.1" stroke="#1a1a1a" stroke-width="1.2" stroke-linecap="butt"/>
<text x="576.3" y="756.05" font-size="9.3" font-weight="bold" text-anchor="middle" fill="#000" stroke="#000" stroke-width="0.3">CA</text>
<line x1="642.3" y1="744.7" x2="642.3" y2="747.1" stroke="#1a1a1a" stroke-width="1.2" stroke-linecap="butt"/>
<text x="642.3" y="756.05" font-size="9.3" font-weight="bold" text-anchor="middle" fill="#000" stroke="#000" stroke-width="0.3">AA</text>
<line x1="576.3" y1="660.7" x2="638.3" y2="660.7" stroke="#8c8c8c" stroke-width="0.9" stroke-linecap="butt"/>
<text x="609.3" y="658.9" font-size="9.4" font-weight="bold" text-anchor="middle" fill="#000" stroke="#000" stroke-width="0.3" textLength="12.4" lengthAdjust="spacing">***</text>
</g>
<g>
<line x1="103.25" y1="832.8" x2="103.25" y2="837.5" stroke="#000" stroke-width="1.4" stroke-linecap="butt"/>
<line x1="95.37" y1="832.8" x2="111.13" y2="832.8" stroke="#000" stroke-width="1.4" stroke-linecap="butt"/>
<line x1="163.7" y1="820.8" x2="163.7" y2="824.6" stroke="#000" stroke-width="1.4" stroke-linecap="butt"/>
<line x1="155.74" y1="820.8" x2="171.66" y2="820.8" stroke="#000" stroke-width="1.4" stroke-linecap="butt"/>
<rect x="88.1" y="837.5" width="30.3" height="44.9" fill="#8080ff" stroke="#000" stroke-width="1.4"/>
<rect x="148.4" y="824.6" width="30.6" height="57.8" fill="#ff0000" stroke="#000" stroke-width="1.4"/>
<line x1="72.7" y1="791.8" x2="72.7" y2="883.15" stroke="#1a1a1a" stroke-width="1.5" stroke-linecap="butt"/>
<line x1="71.95" y1="882.4" x2="193.8" y2="882.4" stroke="#1a1a1a" stroke-width="1.5" stroke-linecap="butt"/>
<line x1="70.9" y1="792.8" x2="72.7" y2="792.8" stroke="#1a1a1a" stroke-width="1.2" stroke-linecap="butt"/>
<text x="70.1" y="795.52" font-size="8" font-weight="bold" text-anchor="end" fill="#000" stroke="#000" stroke-width="0.3">2.0</text>
<line x1="70.9" y1="815.1" x2="72.7" y2="815.1" stroke="#1a1a1a" stroke-width="1.2" stroke-linecap="butt"/>
<text x="70.1" y="817.82" font-size="8" font-weight="bold" text-anchor="end" fill="#000" stroke="#000" stroke-width="0.3">1.5</text>
<line x1="70.9" y1="837.5" x2="72.7" y2="837.5" stroke="#1a1a1a" stroke-width="1.2" stroke-linecap="butt"/>
<text x="70.1" y="840.22" font-size="8" font-weight="bold" text-anchor="end" fill="#000" stroke="#000" stroke-width="0.3">1.0</text>
<line x1="70.9" y1="860" x2="72.7" y2="860" stroke="#1a1a1a" stroke-width="1.2" stroke-linecap="butt"/>
<text x="70.1" y="862.72" font-size="8" font-weight="bold" text-anchor="end" fill="#000" stroke="#000" stroke-width="0.3">0.5</text>
<line x1="70.9" y1="882.4" x2="72.7" y2="882.4" stroke="#1a1a1a" stroke-width="1.2" stroke-linecap="butt"/>
<text x="70.1" y="885.12" font-size="8" font-weight="bold" text-anchor="end" fill="#000" stroke="#000" stroke-width="0.3">0.0</text>
<line x1="103.5" y1="882.4" x2="103.5" y2="884.8" stroke="#1a1a1a" stroke-width="1.2" stroke-linecap="butt"/>
<text x="103.5" y="894.08" font-size="10.5" font-weight="bold" text-anchor="middle" fill="#000" stroke="#000" stroke-width="0.3">N</text>
<line x1="163.8" y1="882.4" x2="163.8" y2="884.8" stroke="#1a1a1a" stroke-width="1.2" stroke-linecap="butt"/>
<text x="163.8" y="894.08" font-size="10.5" font-weight="bold" text-anchor="middle" fill="#000" stroke="#000" stroke-width="0.3">T</text>
<line x1="100" y1="816.6" x2="161.8" y2="816.6" stroke="#8c8c8c" stroke-width="0.9" stroke-linecap="butt"/>
<text x="130.3" y="812.1" font-size="9" font-weight="normal" text-anchor="middle" fill="#111" font-style="italic" stroke="#111" stroke-width="0.2" textLength="11.6" lengthAdjust="spacingAndGlyphs">NS</text>
<rect x="76.9" y="791.8" width="9.9" height="6.7" fill="#8080ff" stroke="#000" stroke-width="1.5"/>
<text x="91" y="797.81" font-size="7.4" font-weight="bold" text-anchor="start" fill="#000" stroke="#000" stroke-width="0.3">N</text>
<rect x="76.9" y="802.5" width="9.9" height="6.2" fill="#ff0000" stroke="#000" stroke-width="1.5"/>
<text x="91" y="808.26" font-size="7.4" font-weight="bold" text-anchor="start" fill="#000" stroke="#000" stroke-width="0.3">T</text>
</g>
<g>
<line x1="238.05" y1="830.8" x2="238.05" y2="836" stroke="#000" stroke-width="1.4" stroke-linecap="butt"/>
<line x1="232.04" y1="830.8" x2="244.06" y2="830.8" stroke="#000" stroke-width="1.4" stroke-linecap="butt"/>
<line x1="265.65" y1="829" x2="265.65" y2="831.5" stroke="#000" stroke-width="1.4" stroke-linecap="butt"/>
<line x1="259.85" y1="829" x2="271.45" y2="829" stroke="#000" stroke-width="1.4" stroke-linecap="butt"/>
<line x1="303.9" y1="832.8" x2="303.9" y2="836" stroke="#000" stroke-width="1.4" stroke-linecap="butt"/>
<line x1="297.97" y1="832.8" x2="309.83" y2="832.8" stroke="#000" stroke-width="1.4" stroke-linecap="butt"/>
<line x1="331.45" y1="805" x2="331.45" y2="809.2" stroke="#000" stroke-width="1.4" stroke-linecap="butt"/>
<line x1="325.65" y1="805" x2="337.25" y2="805" stroke="#000" stroke-width="1.4" stroke-linecap="butt"/>
<rect x="226.5" y="836" width="23.1" height="43.9" fill="#8080ff" stroke="#000" stroke-width="1.4"/>
<rect x="254.5" y="831.5" width="22.3" height="48.4" fill="#ff0000" stroke="#000" stroke-width="1.4"/>
<rect x="292.5" y="836" width="22.8" height="43.9" fill="#8080ff" stroke="#000" stroke-width="1.4"/>
<rect x="320.3" y="809.2" width="22.3" height="70.7" fill="#ff0000" stroke="#000" stroke-width="1.4"/>
<line x1="218" y1="791" x2="218" y2="880.65" stroke="#1a1a1a" stroke-width="1.5" stroke-linecap="butt"/>
<line x1="217.25" y1="879.9" x2="351.3" y2="879.9" stroke="#1a1a1a" stroke-width="1.5" stroke-linecap="butt"/>
<line x1="215.4" y1="791.8" x2="218" y2="791.8" stroke="#1a1a1a" stroke-width="1.2" stroke-linecap="butt"/>
<text x="214.7" y="794.52" font-size="8" font-weight="bold" text-anchor="end" fill="#000" stroke="#000" stroke-width="0.3">2.0</text>
<line x1="215.4" y1="813.9" x2="218" y2="813.9" stroke="#1a1a1a" stroke-width="1.2" stroke-linecap="butt"/>
<text x="214.7" y="816.62" font-size="8" font-weight="bold" text-anchor="end" fill="#000" stroke="#000" stroke-width="0.3">1.5</text>
<line x1="215.4" y1="836" x2="218" y2="836" stroke="#1a1a1a" stroke-width="1.2" stroke-linecap="butt"/>
<text x="214.7" y="838.72" font-size="8" font-weight="bold" text-anchor="end" fill="#000" stroke="#000" stroke-width="0.3">1.0</text>
<line x1="215.4" y1="858" x2="218" y2="858" stroke="#1a1a1a" stroke-width="1.2" stroke-linecap="butt"/>
<text x="214.7" y="860.72" font-size="8" font-weight="bold" text-anchor="end" fill="#000" stroke="#000" stroke-width="0.3">0.5</text>
<line x1="215.4" y1="879.9" x2="218" y2="879.9" stroke="#1a1a1a" stroke-width="1.2" stroke-linecap="butt"/>
<text x="214.7" y="882.62" font-size="8" font-weight="bold" text-anchor="end" fill="#000" stroke="#000" stroke-width="0.3">0.0</text>
<line x1="252" y1="879.9" x2="252" y2="882.3" stroke="#1a1a1a" stroke-width="1.2" stroke-linecap="butt"/>
<text x="252" y="893.22" font-size="10.9" font-weight="bold" text-anchor="middle" fill="#000" stroke="#000" stroke-width="0.3">CA</text>
<line x1="318.3" y1="879.9" x2="318.3" y2="882.3" stroke="#1a1a1a" stroke-width="1.2" stroke-linecap="butt"/>
<text x="318.3" y="893.22" font-size="10.9" font-weight="bold" text-anchor="middle" fill="#000" stroke="#000" stroke-width="0.3">AA</text>
<line x1="229.7" y1="826" x2="269.4" y2="826" stroke="#8c8c8c" stroke-width="0.9" stroke-linecap="butt"/>
<text x="251.5" y="822.5" font-size="9" font-weight="normal" text-anchor="middle" fill="#111" font-style="italic" stroke="#111" stroke-width="0.2" textLength="11.6" lengthAdjust="spacingAndGlyphs">NS</text>
<line x1="301.2" y1="800.5" x2="337.1" y2="800.5" stroke="#8c8c8c" stroke-width="0.9" stroke-linecap="butt"/>
<text x="322.8" y="798.9" font-size="9.4" font-weight="bold" text-anchor="middle" fill="#000" stroke="#000" stroke-width="0.3" textLength="8.2" lengthAdjust="spacing">**</text>
<rect x="224.7" y="791" width="9.5" height="6.3" fill="#8080ff" stroke="#000" stroke-width="1.5"/>
<text x="238.7" y="797.25" font-size="8.6" font-weight="bold" text-anchor="start" fill="#000" stroke="#000" stroke-width="0.3">CA</text>
<rect x="224.7" y="801.2" width="9.5" height="6" fill="#ff0000" stroke="#000" stroke-width="1.5"/>
<text x="238.7" y="807.3" font-size="8.6" font-weight="bold" text-anchor="start" fill="#000" stroke="#000" stroke-width="0.3">AA</text>
</g>
<g>
<line x1="415.75" y1="832" x2="415.75" y2="837.5" stroke="#000" stroke-width="1.4" stroke-linecap="butt"/>
<line x1="407.09" y1="832" x2="424.41" y2="832" stroke="#000" stroke-width="1.4" stroke-linecap="butt"/>
<line x1="480.6" y1="856.8" x2="480.6" y2="858.3" stroke="#000" stroke-width="1.4" stroke-linecap="butt"/>
<line x1="472.02" y1="856.8" x2="489.18" y2="856.8" stroke="#000" stroke-width="1.4" stroke-linecap="butt"/>
<rect x="399.1" y="837.5" width="33.3" height="43.1" fill="#8080ff" stroke="#000" stroke-width="1.4"/>
<rect x="464.1" y="858.3" width="33" height="22.3" fill="#ff0000" stroke="#000" stroke-width="1.4"/>
<line x1="382.8" y1="793" x2="382.8" y2="881.35" stroke="#1a1a1a" stroke-width="1.5" stroke-linecap="butt"/>
<line x1="382.05" y1="880.6" x2="513.8" y2="880.6" stroke="#1a1a1a" stroke-width="1.5" stroke-linecap="butt"/>
<line x1="380.4" y1="793.8" x2="382.8" y2="793.8" stroke="#1a1a1a" stroke-width="1.2" stroke-linecap="butt"/>
<text x="379.7" y="796.62" font-size="8.3" font-weight="bold" text-anchor="end" fill="#000" stroke="#000" stroke-width="0.3">2.0</text>
<line x1="380.4" y1="815.9" x2="382.8" y2="815.9" stroke="#1a1a1a" stroke-width="1.2" stroke-linecap="butt"/>
<text x="379.7" y="818.72" font-size="8.3" font-weight="bold" text-anchor="end" fill="#000" stroke="#000" stroke-width="0.3">1.5</text>
<line x1="380.4" y1="837.5" x2="382.8" y2="837.5" stroke="#1a1a1a" stroke-width="1.2" stroke-linecap="butt"/>
<text x="379.7" y="840.32" font-size="8.3" font-weight="bold" text-anchor="end" fill="#000" stroke="#000" stroke-width="0.3">1.0</text>
<line x1="380.4" y1="859.3" x2="382.8" y2="859.3" stroke="#1a1a1a" stroke-width="1.2" stroke-linecap="butt"/>
<text x="379.7" y="862.12" font-size="8.3" font-weight="bold" text-anchor="end" fill="#000" stroke="#000" stroke-width="0.3">0.5</text>
<line x1="380.4" y1="880.6" x2="382.8" y2="880.6" stroke="#1a1a1a" stroke-width="1.2" stroke-linecap="butt"/>
<text x="379.7" y="883.42" font-size="8.3" font-weight="bold" text-anchor="end" fill="#000" stroke="#000" stroke-width="0.3">0.0</text>
<line x1="416.3" y1="880.6" x2="416.3" y2="883" stroke="#1a1a1a" stroke-width="1.2" stroke-linecap="butt"/>
<text x="416.3" y="893.72" font-size="10.9" font-weight="bold" text-anchor="middle" fill="#000" stroke="#000" stroke-width="0.3">CA</text>
<line x1="480.8" y1="880.6" x2="480.8" y2="883" stroke="#1a1a1a" stroke-width="1.2" stroke-linecap="butt"/>
<text x="480.8" y="893.72" font-size="10.9" font-weight="bold" text-anchor="middle" fill="#000" stroke="#000" stroke-width="0.3">AA</text>
<line x1="416.3" y1="826.6" x2="480.3" y2="826.6" stroke="#8c8c8c" stroke-width="0.9" stroke-linecap="butt"/>
<text x="444.3" y="823.2" font-size="9" font-weight="normal" text-anchor="middle" fill="#111" font-style="italic" stroke="#111" stroke-width="0.2" textLength="11.6" lengthAdjust="spacingAndGlyphs">NS</text>
<rect x="389" y="794.3" width="9.9" height="6.2" fill="#8080ff" stroke="#000" stroke-width="1.5"/>
<text x="403.3" y="800.5" font-size="8.6" font-weight="normal" text-anchor="start" fill="#000" stroke="#000" stroke-width="0.15">CA</text>
<rect x="389" y="804.2" width="9.9" height="6.2" fill="#ff0000" stroke="#000" stroke-width="1.5"/>
<text x="403.3" y="810.4" font-size="8.6" font-weight="normal" text-anchor="start" fill="#000" stroke="#000" stroke-width="0.15">AA</text>
</g>
<g>
<line x1="575.3" y1="836.5" x2="575.3" y2="837.5" stroke="#000" stroke-width="1.4" stroke-linecap="butt"/>
<line x1="566.93" y1="836.5" x2="583.67" y2="836.5" stroke="#000" stroke-width="1.4" stroke-linecap="butt"/>
<line x1="640.05" y1="816.6" x2="640.05" y2="817.4" stroke="#000" stroke-width="1.4" stroke-linecap="butt"/>
<line x1="631.55" y1="816.6" x2="648.55" y2="816.6" stroke="#000" stroke-width="1.4" stroke-linecap="butt"/>
<rect x="559.2" y="837.5" width="32.2" height="42.9" fill="#8080ff" stroke="#000" stroke-width="1.4"/>
<rect x="623.7" y="817.4" width="32.7" height="63" fill="#ff0000" stroke="#000" stroke-width="1.4"/>
<line x1="544" y1="793" x2="544" y2="881.15" stroke="#1a1a1a" stroke-width="1.5" stroke-linecap="butt"/>
<line x1="543.25" y1="880.4" x2="672.6" y2="880.4" stroke="#1a1a1a" stroke-width="1.5" stroke-linecap="butt"/>
<line x1="541.6" y1="794.3" x2="544" y2="794.3" stroke="#1a1a1a" stroke-width="1.2" stroke-linecap="butt"/>
<text x="540.9" y="797.12" font-size="8.3" font-weight="bold" text-anchor="end" fill="#000" stroke="#000" stroke-width="0.3">2.0</text>
<line x1="541.6" y1="815.9" x2="544" y2="815.9" stroke="#1a1a1a" stroke-width="1.2" stroke-linecap="butt"/>
<text x="540.9" y="818.72" font-size="8.3" font-weight="bold" text-anchor="end" fill="#000" stroke="#000" stroke-width="0.3">1.5</text>
<line x1="541.6" y1="837.5" x2="544" y2="837.5" stroke="#1a1a1a" stroke-width="1.2" stroke-linecap="butt"/>
<text x="540.9" y="840.32" font-size="8.3" font-weight="bold" text-anchor="end" fill="#000" stroke="#000" stroke-width="0.3">1.0</text>
<line x1="541.6" y1="859" x2="544" y2="859" stroke="#1a1a1a" stroke-width="1.2" stroke-linecap="butt"/>
<text x="540.9" y="861.82" font-size="8.3" font-weight="bold" text-anchor="end" fill="#000" stroke="#000" stroke-width="0.3">0.5</text>
<line x1="541.6" y1="880.4" x2="544" y2="880.4" stroke="#1a1a1a" stroke-width="1.2" stroke-linecap="butt"/>
<text x="540.9" y="883.22" font-size="8.3" font-weight="bold" text-anchor="end" fill="#000" stroke="#000" stroke-width="0.3">0.0</text>
<line x1="575.3" y1="880.4" x2="575.3" y2="882.8" stroke="#1a1a1a" stroke-width="1.2" stroke-linecap="butt"/>
<text x="575.3" y="893.72" font-size="10.9" font-weight="bold" text-anchor="middle" fill="#000" stroke="#000" stroke-width="0.3">CA</text>
<line x1="640.3" y1="880.4" x2="640.3" y2="882.8" stroke="#1a1a1a" stroke-width="1.2" stroke-linecap="butt"/>
<text x="640.3" y="893.72" font-size="10.9" font-weight="bold" text-anchor="middle" fill="#000" stroke="#000" stroke-width="0.3">AA</text>
<line x1="583.2" y1="812.4" x2="644" y2="812.4" stroke="#8c8c8c" stroke-width="0.9" stroke-linecap="butt"/>
<text x="614.8" y="810.6" font-size="9.4" font-weight="bold" text-anchor="middle" fill="#000" stroke="#000" stroke-width="0.3" textLength="12.4" lengthAdjust="spacing">***</text>
<rect x="547.3" y="790.6" width="9.4" height="5.7" fill="#8080ff" stroke="#000" stroke-width="1.5"/>
<text x="561.2" y="796.55" font-size="8.6" font-weight="bold" text-anchor="start" fill="#000" stroke="#000" stroke-width="0.3">CA</text>
<rect x="547.3" y="800.5" width="9.4" height="6.2" fill="#ff0000" stroke="#000" stroke-width="1.5"/>
<text x="561.2" y="806.7" font-size="8.6" font-weight="bold" text-anchor="start" fill="#000" stroke="#000" stroke-width="0.3">AA</text>
</g>
</g></svg></body></html>
